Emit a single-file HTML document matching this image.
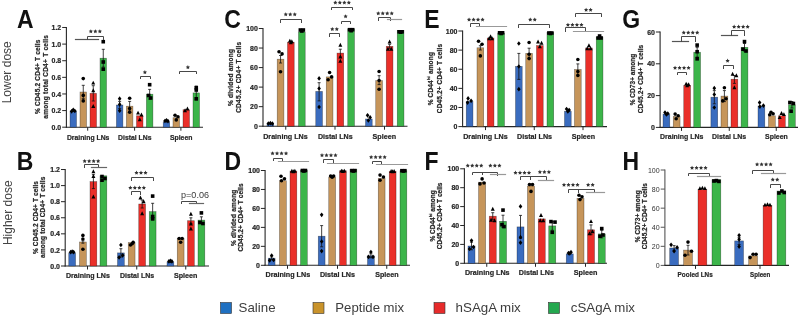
<!DOCTYPE html>
<html><head><meta charset="utf-8"><style>html,body{margin:0;padding:0;background:#fff;}svg{display:block}</style></head>
<body><svg width="798" height="316" viewBox="0 0 798 316">
<defs><filter id="bl" x="0" y="0" width="1" height="1" color-interpolation-filters="sRGB"><feGaussianBlur stdDeviation="0.35"/></filter></defs>
<rect width="798" height="316" fill="#fff"/>
<g filter="url(#bl)">
<rect width="798" height="316" fill="#fff"/>
<path d="M62.2,127.2 L66.4,127.2" fill="none" stroke="#262626" stroke-width="1" stroke-linejoin="round"/>
<text transform="translate(61.20 129.80) scale(0.93 1)" font-family="Liberation Sans" font-size="7.5" font-weight="bold" text-anchor="end" fill="#262626" stroke="#262626" stroke-width="0.22">0.0</text>
<path d="M62.2,110.58 L66.4,110.58" fill="none" stroke="#262626" stroke-width="1" stroke-linejoin="round"/>
<text transform="translate(61.20 113.18) scale(0.93 1)" font-family="Liberation Sans" font-size="7.5" font-weight="bold" text-anchor="end" fill="#262626" stroke="#262626" stroke-width="0.22">0.2</text>
<path d="M62.2,93.96000000000001 L66.4,93.96000000000001" fill="none" stroke="#262626" stroke-width="1" stroke-linejoin="round"/>
<text transform="translate(61.20 96.56) scale(0.93 1)" font-family="Liberation Sans" font-size="7.5" font-weight="bold" text-anchor="end" fill="#262626" stroke="#262626" stroke-width="0.22">0.4</text>
<path d="M62.2,77.34 L66.4,77.34" fill="none" stroke="#262626" stroke-width="1" stroke-linejoin="round"/>
<text transform="translate(61.20 79.94) scale(0.93 1)" font-family="Liberation Sans" font-size="7.5" font-weight="bold" text-anchor="end" fill="#262626" stroke="#262626" stroke-width="0.22">0.6</text>
<path d="M62.2,60.72 L66.4,60.72" fill="none" stroke="#262626" stroke-width="1" stroke-linejoin="round"/>
<text transform="translate(61.20 63.32) scale(0.93 1)" font-family="Liberation Sans" font-size="7.5" font-weight="bold" text-anchor="end" fill="#262626" stroke="#262626" stroke-width="0.22">0.8</text>
<path d="M62.2,44.10000000000001 L66.4,44.10000000000001" fill="none" stroke="#262626" stroke-width="1" stroke-linejoin="round"/>
<text transform="translate(61.20 46.70) scale(0.93 1)" font-family="Liberation Sans" font-size="7.5" font-weight="bold" text-anchor="end" fill="#262626" stroke="#262626" stroke-width="0.22">1.0</text>
<path d="M62.2,27.47999999999999 L66.4,27.47999999999999" fill="none" stroke="#262626" stroke-width="1" stroke-linejoin="round"/>
<text transform="translate(61.20 30.08) scale(0.93 1)" font-family="Liberation Sans" font-size="7.5" font-weight="bold" text-anchor="end" fill="#262626" stroke="#262626" stroke-width="0.22">1.2</text>
<path d="M66.4,26.980000000000018 L66.4,127.7" fill="none" stroke="#262626" stroke-width="1.1" stroke-linejoin="round"/>
<path d="M65.9,127.2 L203,127.2" fill="none" stroke="#262626" stroke-width="1.1" stroke-linejoin="round"/>
<rect x="70" y="111.00" width="6.5" height="16.20" fill="#3a6cbf" stroke="#000" stroke-opacity="0.45" stroke-width="0.6"/>
<rect x="80" y="92.00" width="6.5" height="35.20" fill="#c6955a" stroke="#000" stroke-opacity="0.45" stroke-width="0.6"/>
<rect x="90" y="93.30" width="6.5" height="33.90" fill="#ea2f29" stroke="#000" stroke-opacity="0.45" stroke-width="0.6"/>
<rect x="100" y="58.20" width="6.5" height="69.00" fill="#3cb54a" stroke="#000" stroke-opacity="0.45" stroke-width="0.6"/>
<path d="M87.7,127.2 L87.7,130.7" fill="none" stroke="#262626" stroke-width="1" stroke-linejoin="round"/>
<text x="88.15" y="139.70000000000002" font-family="Liberation Sans" font-size="7.9" font-weight="bold" text-anchor="middle" fill="#262626" stroke="#262626" stroke-width="0.22" textLength="42.5" lengthAdjust="spacingAndGlyphs">Draining LNs</text>
<rect x="116.4" y="105.00" width="6.5" height="22.20" fill="#3a6cbf" stroke="#000" stroke-opacity="0.45" stroke-width="0.6"/>
<rect x="126.4" y="106.20" width="6.5" height="21.00" fill="#c6955a" stroke="#000" stroke-opacity="0.45" stroke-width="0.6"/>
<rect x="136.5" y="115.80" width="6.5" height="11.40" fill="#ea2f29" stroke="#000" stroke-opacity="0.45" stroke-width="0.6"/>
<rect x="146.4" y="94.20" width="6.5" height="33.00" fill="#3cb54a" stroke="#000" stroke-opacity="0.45" stroke-width="0.6"/>
<path d="M134.6,127.2 L134.6,130.7" fill="none" stroke="#262626" stroke-width="1" stroke-linejoin="round"/>
<text x="134.8" y="139.70000000000002" font-family="Liberation Sans" font-size="7.9" font-weight="bold" text-anchor="middle" fill="#262626" stroke="#262626" stroke-width="0.22" textLength="33.4" lengthAdjust="spacingAndGlyphs">Distal LNs</text>
<rect x="163.2" y="122.10" width="6.5" height="5.10" fill="#3a6cbf" stroke="#000" stroke-opacity="0.45" stroke-width="0.6"/>
<rect x="173" y="117.70" width="6.5" height="9.50" fill="#c6955a" stroke="#000" stroke-opacity="0.45" stroke-width="0.6"/>
<rect x="183" y="109.70" width="6.5" height="17.50" fill="#ea2f29" stroke="#000" stroke-opacity="0.45" stroke-width="0.6"/>
<rect x="193" y="92.90" width="6.5" height="34.30" fill="#3cb54a" stroke="#000" stroke-opacity="0.45" stroke-width="0.6"/>
<path d="M180.9,127.2 L180.9,130.7" fill="none" stroke="#262626" stroke-width="1" stroke-linejoin="round"/>
<text x="181.15" y="139.70000000000002" font-family="Liberation Sans" font-size="7.9" font-weight="bold" text-anchor="middle" fill="#262626" stroke="#262626" stroke-width="0.22" textLength="22.5" lengthAdjust="spacingAndGlyphs">Spleen</text>
<polygon points="71.65,108.96 73.45,111.3 71.65,113.64 69.85000000000001,111.3" fill="#000"/>
<polygon points="73.25,107.46 75.05,109.8 73.25,112.14 71.45,109.8" fill="#000"/>
<polygon points="74.85,108.66 76.64999999999999,111 74.85,113.34 73.05,111" fill="#000"/>
<path d="M83.25,98.7 L83.25,85.3" fill="none" stroke="#111" stroke-width="0.8" stroke-linejoin="round"/>
<path d="M81.75,85.3 L84.75,85.3" fill="none" stroke="#111" stroke-width="0.8" stroke-linejoin="round"/>
<path d="M81.75,98.7 L84.75,98.7" fill="none" stroke="#111" stroke-width="0.8" stroke-linejoin="round"/>
<circle cx="83.25" cy="78.6" r="1.8" fill="#000"/>
<circle cx="83.25" cy="95.4" r="1.8" fill="#000"/>
<circle cx="83.25" cy="100.9" r="1.8" fill="#000"/>
<path d="M93.25,101 L93.25,85.7" fill="none" stroke="#111" stroke-width="0.8" stroke-linejoin="round"/>
<path d="M91.75,85.7 L94.75,85.7" fill="none" stroke="#111" stroke-width="0.8" stroke-linejoin="round"/>
<path d="M91.75,101 L94.75,101" fill="none" stroke="#111" stroke-width="0.8" stroke-linejoin="round"/>
<polygon points="93.25,80.64 95.23,84.6 91.27,84.6" fill="#000"/>
<polygon points="93.25,88.24000000000001 95.23,92.2 91.27,92.2" fill="#000"/>
<polygon points="93.25,104.04 95.23,108.0 91.27,108.0" fill="#000"/>
<path d="M103.25,67.1 L103.25,49.3" fill="none" stroke="#111" stroke-width="0.8" stroke-linejoin="round"/>
<path d="M101.75,49.3 L104.75,49.3" fill="none" stroke="#111" stroke-width="0.8" stroke-linejoin="round"/>
<path d="M101.75,67.1 L104.75,67.1" fill="none" stroke="#111" stroke-width="0.8" stroke-linejoin="round"/>
<rect x="101.45" y="39.900000000000006" width="3.6" height="3.6" fill="#000"/>
<rect x="101.45" y="60.2" width="3.6" height="3.6" fill="#000"/>
<rect x="101.45" y="67.4" width="3.6" height="3.6" fill="#000"/>
<path d="M119.65,108.6 L119.65,101.4" fill="none" stroke="#111" stroke-width="0.8" stroke-linejoin="round"/>
<path d="M118.15,101.4 L121.15,101.4" fill="none" stroke="#111" stroke-width="0.8" stroke-linejoin="round"/>
<path d="M118.15,108.6 L121.15,108.6" fill="none" stroke="#111" stroke-width="0.8" stroke-linejoin="round"/>
<polygon points="119.65,96.36 121.45,98.7 119.65,101.04 117.85000000000001,98.7" fill="#000"/>
<polygon points="119.65,102.06 121.45,104.4 119.65,106.74000000000001 117.85000000000001,104.4" fill="#000"/>
<polygon points="119.65,108.36 121.45,110.7 119.65,113.04 117.85000000000001,110.7" fill="#000"/>
<path d="M129.65,111 L129.65,101.4" fill="none" stroke="#111" stroke-width="0.8" stroke-linejoin="round"/>
<path d="M128.15,101.4 L131.15,101.4" fill="none" stroke="#111" stroke-width="0.8" stroke-linejoin="round"/>
<path d="M128.15,111 L131.15,111" fill="none" stroke="#111" stroke-width="0.8" stroke-linejoin="round"/>
<circle cx="129.65" cy="98.2" r="1.8" fill="#000"/>
<circle cx="129.65" cy="108.6" r="1.8" fill="#000"/>
<circle cx="129.65" cy="112.2" r="1.8" fill="#000"/>
<polygon points="138.05,110.64 140.03,114.6 136.07000000000002,114.6" fill="#000"/>
<polygon points="141.45,112.44 143.42999999999998,116.39999999999999 139.47,116.39999999999999" fill="#000"/>
<polygon points="139.75,117.24000000000001 141.73,121.2 137.77,121.2" fill="#000"/>
<path d="M149.65,99 L149.65,89.4" fill="none" stroke="#111" stroke-width="0.8" stroke-linejoin="round"/>
<path d="M148.15,89.4 L151.15,89.4" fill="none" stroke="#111" stroke-width="0.8" stroke-linejoin="round"/>
<path d="M148.15,99 L151.15,99" fill="none" stroke="#111" stroke-width="0.8" stroke-linejoin="round"/>
<rect x="147.85" y="82.9" width="3.6" height="3.6" fill="#000"/>
<rect x="146.85" y="93.7" width="3.6" height="3.6" fill="#000"/>
<rect x="148.85" y="96.2" width="3.6" height="3.6" fill="#000"/>
<polygon points="164.95,118.66 166.75,121 164.95,123.34 163.14999999999998,121" fill="#000"/>
<polygon points="166.45,117.96 168.25,120.3 166.45,122.64 164.64999999999998,120.3" fill="#000"/>
<polygon points="167.95,118.86 169.75,121.2 167.95,123.54 166.14999999999998,121.2" fill="#000"/>
<circle cx="175.05" cy="115.2" r="1.8" fill="#000"/>
<circle cx="177.95" cy="116.7" r="1.8" fill="#000"/>
<circle cx="176.25" cy="119.9" r="1.8" fill="#000"/>
<polygon points="185.05,108.24000000000001 187.03,112.2 183.07000000000002,112.2" fill="#000"/>
<polygon points="187.45,106.54 189.42999999999998,110.5 185.47,110.5" fill="#000"/>
<path d="M196.25,99.8 L196.25,86" fill="none" stroke="#111" stroke-width="0.8" stroke-linejoin="round"/>
<path d="M194.75,86 L197.75,86" fill="none" stroke="#111" stroke-width="0.8" stroke-linejoin="round"/>
<path d="M194.75,99.8 L197.75,99.8" fill="none" stroke="#111" stroke-width="0.8" stroke-linejoin="round"/>
<rect x="194.45" y="86.0" width="3.6" height="3.6" fill="#000"/>
<rect x="194.45" y="88.2" width="3.6" height="3.6" fill="#000"/>
<rect x="194.45" y="97.0" width="3.6" height="3.6" fill="#000"/>
<path d="M75.5,39.5 L98.5,39.5" fill="none" stroke="#555" stroke-width="1.2" stroke-linejoin="miter" stroke-linecap="square"/>
<path d="M87.5,39.5 L87.5,36.5 L103.5,36.5 L103.5,39.5" fill="none" stroke="#484848" stroke-width="1" stroke-linejoin="miter" stroke-linecap="square"/>
<path d="M140.5,78.5 L140.5,76.5 L150.5,76.5 L150.5,78.5" fill="none" stroke="#484848" stroke-width="1" stroke-linejoin="miter" stroke-linecap="square"/>
<path d="M179.5,73.5 L179.5,71.5 L196.5,71.5 L196.5,73.5" fill="none" stroke="#484848" stroke-width="1" stroke-linejoin="miter" stroke-linecap="square"/>
<polygon points="90.85,29.30 91.50,30.61 92.94,30.82 91.90,31.84 92.14,33.28 90.85,32.60 89.56,33.28 89.80,31.84 88.76,30.82 90.20,30.61" fill="#333"/><polygon points="95.35,29.30 96.00,30.61 97.44,30.82 96.40,31.84 96.64,33.28 95.35,32.60 94.06,33.28 94.30,31.84 93.26,30.82 94.70,30.61" fill="#333"/><polygon points="99.85,29.30 100.50,30.61 101.94,30.82 100.90,31.84 101.14,33.28 99.85,32.60 98.56,33.28 98.80,31.84 97.76,30.82 99.20,30.61" fill="#333"/>
<polygon points="144.90,70.10 145.55,71.41 146.99,71.62 145.95,72.64 146.19,74.08 144.90,73.40 143.61,74.08 143.85,72.64 142.81,71.62 144.25,71.41" fill="#333"/>
<polygon points="187.90,65.10 188.55,66.41 189.99,66.62 188.95,67.64 189.19,69.08 187.90,68.40 186.61,69.08 186.85,67.64 185.81,66.62 187.25,66.41" fill="#333"/>
<text x="40.4" y="76.75" font-family="Liberation Sans" font-size="6.5" font-weight="bold" text-anchor="middle" fill="#262626" stroke="#262626" stroke-width="0.22" textLength="74.5" lengthAdjust="spacing" transform="rotate(-90 40.4 76.75)">% CD45.2 CD4+ T cells</text>
<text x="47.6" y="76.85" font-family="Liberation Sans" font-size="6.5" font-weight="bold" text-anchor="middle" fill="#262626" stroke="#262626" stroke-width="0.22" textLength="83.7" lengthAdjust="spacing" transform="rotate(-90 47.6 76.85)">among total CD4+ T cells</text>
<text transform="translate(17.1 28.4) scale(0.92 1)" font-family="Liberation Sans" font-size="25" font-weight="bold" fill="#111">A</text>
<path d="M258.8,126.2 L263,126.2" fill="none" stroke="#262626" stroke-width="1" stroke-linejoin="round"/>
<text transform="translate(257.80 128.80) scale(0.93 1)" font-family="Liberation Sans" font-size="7.5" font-weight="bold" text-anchor="end" fill="#262626" stroke="#262626" stroke-width="0.22">0</text>
<path d="M258.8,106.66 L263,106.66" fill="none" stroke="#262626" stroke-width="1" stroke-linejoin="round"/>
<text transform="translate(257.80 109.26) scale(0.93 1)" font-family="Liberation Sans" font-size="7.5" font-weight="bold" text-anchor="end" fill="#262626" stroke="#262626" stroke-width="0.22">20</text>
<path d="M258.8,87.12 L263,87.12" fill="none" stroke="#262626" stroke-width="1" stroke-linejoin="round"/>
<text transform="translate(257.80 89.72) scale(0.93 1)" font-family="Liberation Sans" font-size="7.5" font-weight="bold" text-anchor="end" fill="#262626" stroke="#262626" stroke-width="0.22">40</text>
<path d="M258.8,67.58000000000001 L263,67.58000000000001" fill="none" stroke="#262626" stroke-width="1" stroke-linejoin="round"/>
<text transform="translate(257.80 70.18) scale(0.93 1)" font-family="Liberation Sans" font-size="7.5" font-weight="bold" text-anchor="end" fill="#262626" stroke="#262626" stroke-width="0.22">60</text>
<path d="M258.8,48.040000000000006 L263,48.040000000000006" fill="none" stroke="#262626" stroke-width="1" stroke-linejoin="round"/>
<text transform="translate(257.80 50.64) scale(0.93 1)" font-family="Liberation Sans" font-size="7.5" font-weight="bold" text-anchor="end" fill="#262626" stroke="#262626" stroke-width="0.22">80</text>
<path d="M258.8,28.5 L263,28.5" fill="none" stroke="#262626" stroke-width="1" stroke-linejoin="round"/>
<text transform="translate(257.80 31.10) scale(0.93 1)" font-family="Liberation Sans" font-size="7.5" font-weight="bold" text-anchor="end" fill="#262626" stroke="#262626" stroke-width="0.22">100</text>
<path d="M263,28.0 L263,126.7" fill="none" stroke="#262626" stroke-width="1.1" stroke-linejoin="round"/>
<path d="M262.5,126.2 L407.5,126.2" fill="none" stroke="#262626" stroke-width="1.1" stroke-linejoin="round"/>
<rect x="267" y="124.00" width="6.7" height="2.20" fill="#3a6cbf" stroke="#000" stroke-opacity="0.45" stroke-width="0.6"/>
<rect x="277.2" y="59.20" width="6.7" height="67.00" fill="#c6955a" stroke="#000" stroke-opacity="0.45" stroke-width="0.6"/>
<rect x="287.5" y="42.20" width="6.7" height="84.00" fill="#ea2f29" stroke="#000" stroke-opacity="0.45" stroke-width="0.6"/>
<rect x="298.5" y="32.00" width="6.7" height="94.20" fill="#3cb54a" stroke="#000" stroke-opacity="0.45" stroke-width="0.6"/>
<path d="M285.75,126.2 L285.75,129.7" fill="none" stroke="#262626" stroke-width="1" stroke-linejoin="round"/>
<text x="285.45" y="138.5" font-family="Liberation Sans" font-size="7.9" font-weight="bold" text-anchor="middle" fill="#262626" stroke="#262626" stroke-width="0.22" textLength="44.5" lengthAdjust="spacingAndGlyphs">Draining LNs</text>
<rect x="315.75" y="91.40" width="6.7" height="34.80" fill="#3a6cbf" stroke="#000" stroke-opacity="0.45" stroke-width="0.6"/>
<rect x="326.25" y="76.90" width="6.7" height="49.30" fill="#c6955a" stroke="#000" stroke-opacity="0.45" stroke-width="0.6"/>
<rect x="337" y="53.10" width="6.7" height="73.10" fill="#ea2f29" stroke="#000" stroke-opacity="0.45" stroke-width="0.6"/>
<rect x="347.75" y="28.75" width="6.7" height="97.45" fill="#3cb54a" stroke="#000" stroke-opacity="0.45" stroke-width="0.6"/>
<path d="M335,126.2 L335,129.7" fill="none" stroke="#262626" stroke-width="1" stroke-linejoin="round"/>
<text x="335.25" y="138.5" font-family="Liberation Sans" font-size="7.9" font-weight="bold" text-anchor="middle" fill="#262626" stroke="#262626" stroke-width="0.22" textLength="34.7" lengthAdjust="spacingAndGlyphs">Distal LNs</text>
<rect x="365.5" y="119.00" width="6.7" height="7.20" fill="#3a6cbf" stroke="#000" stroke-opacity="0.45" stroke-width="0.6"/>
<rect x="375.75" y="80.60" width="6.7" height="45.60" fill="#c6955a" stroke="#000" stroke-opacity="0.45" stroke-width="0.6"/>
<rect x="386.25" y="46.30" width="6.7" height="79.90" fill="#ea2f29" stroke="#000" stroke-opacity="0.45" stroke-width="0.6"/>
<rect x="397.25" y="30.30" width="6.7" height="95.90" fill="#3cb54a" stroke="#000" stroke-opacity="0.45" stroke-width="0.6"/>
<path d="M384.5,126.2 L384.5,129.7" fill="none" stroke="#262626" stroke-width="1" stroke-linejoin="round"/>
<text x="384.3" y="138.5" font-family="Liberation Sans" font-size="7.9" font-weight="bold" text-anchor="middle" fill="#262626" stroke="#262626" stroke-width="0.22" textLength="23.4" lengthAdjust="spacingAndGlyphs">Spleen</text>
<polygon points="268.35,121.25999999999999 270.15000000000003,123.6 268.35,125.94 266.55,123.6" fill="#000"/>
<polygon points="270.35,120.86 272.15000000000003,123.2 270.35,125.54 268.55,123.2" fill="#000"/>
<polygon points="272.35,121.25999999999999 274.15000000000003,123.6 272.35,125.94 270.55,123.6" fill="#000"/>
<path d="M280.55,63 L280.55,55.5" fill="none" stroke="#111" stroke-width="0.8" stroke-linejoin="round"/>
<path d="M279.05,55.5 L282.05,55.5" fill="none" stroke="#111" stroke-width="0.8" stroke-linejoin="round"/>
<path d="M279.05,63 L282.05,63" fill="none" stroke="#111" stroke-width="0.8" stroke-linejoin="round"/>
<circle cx="279.05" cy="51.7" r="1.8" fill="#000"/>
<circle cx="282.05" cy="53.9" r="1.8" fill="#000"/>
<circle cx="280.55" cy="71.7" r="1.8" fill="#000"/>
<polygon points="289.85,38.64 291.83000000000004,42.599999999999994 287.87,42.599999999999994" fill="#000"/>
<polygon points="291.85,39.34 293.83000000000004,43.3 289.87,43.3" fill="#000"/>
<polygon points="290.85,40.34 292.83000000000004,44.3 288.87,44.3" fill="#000"/>
<rect x="298.55" y="28.2" width="3.6" height="3.6" fill="#000"/>
<rect x="301.55" y="28.2" width="3.6" height="3.6" fill="#000"/>
<rect x="300.05" y="29.2" width="3.6" height="3.6" fill="#000"/>
<path d="M319.1,100.9 L319.1,82.7" fill="none" stroke="#111" stroke-width="0.8" stroke-linejoin="round"/>
<path d="M317.6,82.7 L320.6,82.7" fill="none" stroke="#111" stroke-width="0.8" stroke-linejoin="round"/>
<path d="M317.6,100.9 L320.6,100.9" fill="none" stroke="#111" stroke-width="0.8" stroke-linejoin="round"/>
<polygon points="319.1,76.06 320.90000000000003,78.4 319.1,80.74000000000001 317.3,78.4" fill="#000"/>
<polygon points="319.1,86.16 320.90000000000003,88.5 319.1,90.84 317.3,88.5" fill="#000"/>
<polygon points="319.1,104.66 320.90000000000003,107 319.1,109.34 317.3,107" fill="#000"/>
<circle cx="329.6" cy="72.5" r="1.8" fill="#000"/>
<circle cx="331.6" cy="76.9" r="1.8" fill="#000"/>
<circle cx="328.1" cy="79.8" r="1.8" fill="#000"/>
<path d="M340.35,57 L340.35,49.2" fill="none" stroke="#111" stroke-width="0.8" stroke-linejoin="round"/>
<path d="M338.85,49.2 L341.85,49.2" fill="none" stroke="#111" stroke-width="0.8" stroke-linejoin="round"/>
<path d="M338.85,57 L341.85,57" fill="none" stroke="#111" stroke-width="0.8" stroke-linejoin="round"/>
<polygon points="340.35,42.84 342.33000000000004,46.8 338.37,46.8" fill="#000"/>
<polygon points="340.35,54.540000000000006 342.33000000000004,58.5 338.37,58.5" fill="#000"/>
<polygon points="340.35,58.739999999999995 342.33000000000004,62.699999999999996 338.37,62.699999999999996" fill="#000"/>
<rect x="347.8" y="27.9" width="3.6" height="3.6" fill="#000"/>
<rect x="350.8" y="27.9" width="3.6" height="3.6" fill="#000"/>
<rect x="349.3" y="28.9" width="3.6" height="3.6" fill="#000"/>
<polygon points="367.55,112.96 369.35,115.3 367.55,117.64 365.75,115.3" fill="#000"/>
<polygon points="370.15000000000003,115.06 371.95000000000005,117.4 370.15000000000003,119.74000000000001 368.35,117.4" fill="#000"/>
<polygon points="368.35,118.16 370.15000000000003,120.5 368.35,122.84 366.55,120.5" fill="#000"/>
<path d="M379.1,84.6 L379.1,75.7" fill="none" stroke="#111" stroke-width="0.8" stroke-linejoin="round"/>
<path d="M377.6,75.7 L380.6,75.7" fill="none" stroke="#111" stroke-width="0.8" stroke-linejoin="round"/>
<path d="M377.6,84.6 L380.6,84.6" fill="none" stroke="#111" stroke-width="0.8" stroke-linejoin="round"/>
<circle cx="379.1" cy="71.5" r="1.8" fill="#000"/>
<circle cx="379.1" cy="80.5" r="1.8" fill="#000"/>
<circle cx="379.1" cy="89.2" r="1.8" fill="#000"/>
<path d="M389.6,48.3 L389.6,44.3" fill="none" stroke="#111" stroke-width="0.8" stroke-linejoin="round"/>
<path d="M388.1,44.3 L391.1,44.3" fill="none" stroke="#111" stroke-width="0.8" stroke-linejoin="round"/>
<path d="M388.1,48.3 L391.1,48.3" fill="none" stroke="#111" stroke-width="0.8" stroke-linejoin="round"/>
<polygon points="389.6,39.540000000000006 391.58000000000004,43.5 387.62,43.5" fill="#000"/>
<polygon points="387.90000000000003,46.84 389.88000000000005,50.8 385.92,50.8" fill="#000"/>
<polygon points="391.3,46.84 393.28000000000003,50.8 389.32,50.8" fill="#000"/>
<rect x="397.3" y="30.0" width="3.6" height="3.6" fill="#000"/>
<rect x="400.3" y="30.0" width="3.6" height="3.6" fill="#000"/>
<rect x="398.8" y="30.400000000000002" width="3.6" height="3.6" fill="#000"/>
<path d="M280.5,22.5 L280.5,19.5 L301.5,19.5 L301.5,22.5" fill="none" stroke="#484848" stroke-width="1" stroke-linejoin="miter" stroke-linecap="square"/>
<path d="M329.5,36.5 L329.5,33.5 L339.5,33.5 L339.5,36.5" fill="none" stroke="#484848" stroke-width="1" stroke-linejoin="miter" stroke-linecap="square"/>
<path d="M341.5,23.5 L341.5,21.5 L350.5,21.5 L350.5,23.5" fill="none" stroke="#484848" stroke-width="1" stroke-linejoin="miter" stroke-linecap="square"/>
<path d="M331.5,9.5 L331.5,7.5 L352.5,7.5 L352.5,9.5" fill="none" stroke="#484848" stroke-width="1" stroke-linejoin="miter" stroke-linecap="square"/>
<path d="M378.5,20.5 L378.5,17.5 L390.5,17.5 L390.5,20.5" fill="none" stroke="#484848" stroke-width="1" stroke-linejoin="miter" stroke-linecap="square"/>
<path d="M387.5,19.5 L401.5,19.5" fill="none" stroke="#999" stroke-width="1.2" stroke-linejoin="miter" stroke-linecap="square"/>
<polygon points="285.75,12.20 286.40,13.51 287.84,13.72 286.80,14.74 287.04,16.18 285.75,15.50 284.46,16.18 284.70,14.74 283.66,13.72 285.10,13.51" fill="#333"/><polygon points="290.25,12.20 290.90,13.51 292.34,13.72 291.30,14.74 291.54,16.18 290.25,15.50 288.96,16.18 289.20,14.74 288.16,13.72 289.60,13.51" fill="#333"/><polygon points="294.75,12.20 295.40,13.51 296.84,13.72 295.80,14.74 296.04,16.18 294.75,15.50 293.46,16.18 293.70,14.74 292.66,13.72 294.10,13.51" fill="#333"/>
<polygon points="332.30,27.00 332.95,28.31 334.39,28.52 333.35,29.54 333.59,30.98 332.30,30.30 331.01,30.98 331.25,29.54 330.21,28.52 331.65,28.31" fill="#333"/><polygon points="336.80,27.00 337.45,28.31 338.89,28.52 337.85,29.54 338.09,30.98 336.80,30.30 335.51,30.98 335.75,29.54 334.71,28.52 336.15,28.31" fill="#333"/>
<polygon points="345.60,14.30 346.25,15.61 347.69,15.82 346.65,16.84 346.89,18.28 345.60,17.60 344.31,18.28 344.55,16.84 343.51,15.82 344.95,15.61" fill="#333"/>
<polygon points="335.35,0.50 336.00,1.81 337.44,2.02 336.40,3.04 336.64,4.48 335.35,3.80 334.06,4.48 334.30,3.04 333.26,2.02 334.70,1.81" fill="#333"/><polygon points="339.85,0.50 340.50,1.81 341.94,2.02 340.90,3.04 341.14,4.48 339.85,3.80 338.56,4.48 338.80,3.04 337.76,2.02 339.20,1.81" fill="#333"/><polygon points="344.35,0.50 345.00,1.81 346.44,2.02 345.40,3.04 345.64,4.48 344.35,3.80 343.06,4.48 343.30,3.04 342.26,2.02 343.70,1.81" fill="#333"/><polygon points="348.85,0.50 349.50,1.81 350.94,2.02 349.90,3.04 350.14,4.48 348.85,3.80 347.56,4.48 347.80,3.04 346.76,2.02 348.20,1.81" fill="#333"/>
<polygon points="378.25,11.20 378.90,12.51 380.34,12.72 379.30,13.74 379.54,15.18 378.25,14.50 376.96,15.18 377.20,13.74 376.16,12.72 377.60,12.51" fill="#333"/><polygon points="382.75,11.20 383.40,12.51 384.84,12.72 383.80,13.74 384.04,15.18 382.75,14.50 381.46,15.18 381.70,13.74 380.66,12.72 382.10,12.51" fill="#333"/><polygon points="387.25,11.20 387.90,12.51 389.34,12.72 388.30,13.74 388.54,15.18 387.25,14.50 385.96,15.18 386.20,13.74 385.16,12.72 386.60,12.51" fill="#333"/><polygon points="391.75,11.20 392.40,12.51 393.84,12.72 392.80,13.74 393.04,15.18 391.75,14.50 390.46,15.18 390.70,13.74 389.66,12.72 391.10,12.51" fill="#333"/>
<text x="232.8" y="77.5" font-family="Liberation Sans" font-size="6.5" font-weight="bold" text-anchor="middle" fill="#262626" stroke="#262626" stroke-width="0.22" textLength="57.2" lengthAdjust="spacing" transform="rotate(-90 232.8 77.5)">% divided among</text>
<text x="241.2" y="77.35" font-family="Liberation Sans" font-size="6.5" font-weight="bold" text-anchor="middle" fill="#262626" stroke="#262626" stroke-width="0.22" textLength="70.9" lengthAdjust="spacing" transform="rotate(-90 241.2 77.35)">CD45.2+ CD4+ T cells</text>
<text transform="translate(224.3 28.4) scale(0.92 1)" font-family="Liberation Sans" font-size="25" font-weight="bold" fill="#111">C</text>
<path d="M458.40000000000003,126.6 L462.6,126.6" fill="none" stroke="#262626" stroke-width="1" stroke-linejoin="round"/>
<text transform="translate(457.40 129.20) scale(0.93 1)" font-family="Liberation Sans" font-size="7.5" font-weight="bold" text-anchor="end" fill="#262626" stroke="#262626" stroke-width="0.22">0</text>
<path d="M458.40000000000003,107.47999999999999 L462.6,107.47999999999999" fill="none" stroke="#262626" stroke-width="1" stroke-linejoin="round"/>
<text transform="translate(457.40 110.08) scale(0.93 1)" font-family="Liberation Sans" font-size="7.5" font-weight="bold" text-anchor="end" fill="#262626" stroke="#262626" stroke-width="0.22">20</text>
<path d="M458.40000000000003,88.36 L462.6,88.36" fill="none" stroke="#262626" stroke-width="1" stroke-linejoin="round"/>
<text transform="translate(457.40 90.96) scale(0.93 1)" font-family="Liberation Sans" font-size="7.5" font-weight="bold" text-anchor="end" fill="#262626" stroke="#262626" stroke-width="0.22">40</text>
<path d="M458.40000000000003,69.24 L462.6,69.24" fill="none" stroke="#262626" stroke-width="1" stroke-linejoin="round"/>
<text transform="translate(457.40 71.84) scale(0.93 1)" font-family="Liberation Sans" font-size="7.5" font-weight="bold" text-anchor="end" fill="#262626" stroke="#262626" stroke-width="0.22">60</text>
<path d="M458.40000000000003,50.120000000000005 L462.6,50.120000000000005" fill="none" stroke="#262626" stroke-width="1" stroke-linejoin="round"/>
<text transform="translate(457.40 52.72) scale(0.93 1)" font-family="Liberation Sans" font-size="7.5" font-weight="bold" text-anchor="end" fill="#262626" stroke="#262626" stroke-width="0.22">80</text>
<path d="M458.40000000000003,31.0 L462.6,31.0" fill="none" stroke="#262626" stroke-width="1" stroke-linejoin="round"/>
<text transform="translate(457.40 33.60) scale(0.93 1)" font-family="Liberation Sans" font-size="7.5" font-weight="bold" text-anchor="end" fill="#262626" stroke="#262626" stroke-width="0.22">100</text>
<path d="M462.6,30.5 L462.6,127.1" fill="none" stroke="#262626" stroke-width="1.1" stroke-linejoin="round"/>
<path d="M462.1,126.6 L607,126.6" fill="none" stroke="#262626" stroke-width="1.1" stroke-linejoin="round"/>
<rect x="466.25" y="101.40" width="6.7" height="25.20" fill="#3a6cbf" stroke="#000" stroke-opacity="0.45" stroke-width="0.6"/>
<rect x="477" y="47.80" width="6.7" height="78.80" fill="#c6955a" stroke="#000" stroke-opacity="0.45" stroke-width="0.6"/>
<rect x="487.25" y="38.00" width="6.7" height="88.60" fill="#ea2f29" stroke="#000" stroke-opacity="0.45" stroke-width="0.6"/>
<rect x="497.75" y="33.00" width="6.7" height="93.60" fill="#3cb54a" stroke="#000" stroke-opacity="0.45" stroke-width="0.6"/>
<path d="M485.5,126.6 L485.5,130.1" fill="none" stroke="#262626" stroke-width="1" stroke-linejoin="round"/>
<text x="485.45" y="138.5" font-family="Liberation Sans" font-size="7.9" font-weight="bold" text-anchor="middle" fill="#262626" stroke="#262626" stroke-width="0.22" textLength="44.5" lengthAdjust="spacingAndGlyphs">Draining LNs</text>
<rect x="515.5" y="66.40" width="6.7" height="60.20" fill="#3a6cbf" stroke="#000" stroke-opacity="0.45" stroke-width="0.6"/>
<rect x="525.75" y="53.40" width="6.7" height="73.20" fill="#c6955a" stroke="#000" stroke-opacity="0.45" stroke-width="0.6"/>
<rect x="536.5" y="45.60" width="6.7" height="81.00" fill="#ea2f29" stroke="#000" stroke-opacity="0.45" stroke-width="0.6"/>
<rect x="547" y="32.60" width="6.7" height="94.00" fill="#3cb54a" stroke="#000" stroke-opacity="0.45" stroke-width="0.6"/>
<path d="M534.25,126.6 L534.25,130.1" fill="none" stroke="#262626" stroke-width="1" stroke-linejoin="round"/>
<text x="534.55" y="138.5" font-family="Liberation Sans" font-size="7.9" font-weight="bold" text-anchor="middle" fill="#262626" stroke="#262626" stroke-width="0.22" textLength="35.1" lengthAdjust="spacingAndGlyphs">Distal LNs</text>
<rect x="564.5" y="111.25" width="6.7" height="15.35" fill="#3a6cbf" stroke="#000" stroke-opacity="0.45" stroke-width="0.6"/>
<rect x="574.5" y="69.50" width="6.7" height="57.10" fill="#c6955a" stroke="#000" stroke-opacity="0.45" stroke-width="0.6"/>
<rect x="585.6" y="48.00" width="6.7" height="78.60" fill="#ea2f29" stroke="#000" stroke-opacity="0.45" stroke-width="0.6"/>
<rect x="596.25" y="37.00" width="6.7" height="89.60" fill="#3cb54a" stroke="#000" stroke-opacity="0.45" stroke-width="0.6"/>
<path d="M583,126.6 L583,130.1" fill="none" stroke="#262626" stroke-width="1" stroke-linejoin="round"/>
<text x="583.45" y="138.5" font-family="Liberation Sans" font-size="7.9" font-weight="bold" text-anchor="middle" fill="#262626" stroke="#262626" stroke-width="0.22" textLength="23.3" lengthAdjust="spacingAndGlyphs">Spleen</text>
<polygon points="468.1,96.06 469.90000000000003,98.4 468.1,100.74000000000001 466.3,98.4" fill="#000"/>
<polygon points="471.1,98.46 472.90000000000003,100.8 471.1,103.14 469.3,100.8" fill="#000"/>
<polygon points="467.6,100.25999999999999 469.40000000000003,102.6 467.6,104.94 465.8,102.6" fill="#000"/>
<path d="M480.35,50 L480.35,45.7" fill="none" stroke="#111" stroke-width="0.8" stroke-linejoin="round"/>
<path d="M478.85,45.7 L481.85,45.7" fill="none" stroke="#111" stroke-width="0.8" stroke-linejoin="round"/>
<path d="M478.85,50 L481.85,50" fill="none" stroke="#111" stroke-width="0.8" stroke-linejoin="round"/>
<circle cx="478.55" cy="41.2" r="1.8" fill="#000"/>
<circle cx="482.05" cy="44.2" r="1.8" fill="#000"/>
<circle cx="480.35" cy="55.9" r="1.8" fill="#000"/>
<polygon points="490.6,34.34 492.58000000000004,38.3 488.62,38.3" fill="#000"/>
<polygon points="489.1,36.34 491.08000000000004,40.3 487.12,40.3" fill="#000"/>
<polygon points="492.1,36.34 494.08000000000004,40.3 490.12,40.3" fill="#000"/>
<rect x="497.8" y="30.999999999999996" width="3.6" height="3.6" fill="#000"/>
<rect x="500.8" y="30.999999999999996" width="3.6" height="3.6" fill="#000"/>
<rect x="499.3" y="31.7" width="3.6" height="3.6" fill="#000"/>
<path d="M518.85,79.4 L518.85,53.4" fill="none" stroke="#111" stroke-width="0.8" stroke-linejoin="round"/>
<path d="M517.35,53.4 L520.35,53.4" fill="none" stroke="#111" stroke-width="0.8" stroke-linejoin="round"/>
<path d="M517.35,79.4 L520.35,79.4" fill="none" stroke="#111" stroke-width="0.8" stroke-linejoin="round"/>
<polygon points="518.85,41.16 520.65,43.5 518.85,45.84 517.0500000000001,43.5" fill="#000"/>
<polygon points="518.85,64.16 520.65,66.5 518.85,68.84 517.0500000000001,66.5" fill="#000"/>
<polygon points="518.85,86.86 520.65,89.2 518.85,91.54 517.0500000000001,89.2" fill="#000"/>
<path d="M529.1,58.6 L529.1,48.2" fill="none" stroke="#111" stroke-width="0.8" stroke-linejoin="round"/>
<path d="M527.6,48.2 L530.6,48.2" fill="none" stroke="#111" stroke-width="0.8" stroke-linejoin="round"/>
<path d="M527.6,58.6 L530.6,58.6" fill="none" stroke="#111" stroke-width="0.8" stroke-linejoin="round"/>
<circle cx="529.1" cy="42.5" r="1.8" fill="#000"/>
<circle cx="529.1" cy="54.2" r="1.8" fill="#000"/>
<circle cx="529.1" cy="58.6" r="1.8" fill="#000"/>
<polygon points="538.0500000000001,39.540000000000006 540.0300000000001,43.5 536.07,43.5" fill="#000"/>
<polygon points="541.5500000000001,40.84 543.5300000000001,44.8 539.57,44.8" fill="#000"/>
<polygon points="539.85,44.34 541.83,48.3 537.87,48.3" fill="#000"/>
<rect x="547.0500000000001" y="31.2" width="3.6" height="3.6" fill="#000"/>
<rect x="550.0500000000001" y="31.2" width="3.6" height="3.6" fill="#000"/>
<rect x="548.5500000000001" y="31.7" width="3.6" height="3.6" fill="#000"/>
<polygon points="566.5500000000001,106.66 568.35,109 566.5500000000001,111.34 564.7500000000001,109" fill="#000"/>
<polygon points="569.15,107.66 570.9499999999999,110 569.15,112.34 567.35,110" fill="#000"/>
<polygon points="567.85,109.16 569.65,111.5 567.85,113.84 566.0500000000001,111.5" fill="#000"/>
<path d="M577.85,75 L577.85,63.9" fill="none" stroke="#111" stroke-width="0.8" stroke-linejoin="round"/>
<path d="M576.35,63.9 L579.35,63.9" fill="none" stroke="#111" stroke-width="0.8" stroke-linejoin="round"/>
<path d="M576.35,75 L579.35,75" fill="none" stroke="#111" stroke-width="0.8" stroke-linejoin="round"/>
<circle cx="577.85" cy="59.5" r="1.8" fill="#000"/>
<circle cx="577.85" cy="71.6" r="1.8" fill="#000"/>
<circle cx="577.85" cy="75.5" r="1.8" fill="#000"/>
<polygon points="588.95,43.34 590.9300000000001,47.3 586.97,47.3" fill="#000"/>
<polygon points="587.25,46.34 589.23,50.3 585.27,50.3" fill="#000"/>
<polygon points="590.6500000000001,46.34 592.6300000000001,50.3 588.6700000000001,50.3" fill="#000"/>
<rect x="597.8000000000001" y="34.2" width="3.6" height="3.6" fill="#000"/>
<rect x="596.3000000000001" y="36.2" width="3.6" height="3.6" fill="#000"/>
<rect x="599.3000000000001" y="36.2" width="3.6" height="3.6" fill="#000"/>
<path d="M470.5,26.5 L470.5,23.5 L479.5,23.5 L479.5,26.5" fill="none" stroke="#484848" stroke-width="1" stroke-linejoin="miter" stroke-linecap="square"/>
<path d="M476.5,26.5 L506.5,26.5" fill="none" stroke="#999" stroke-width="1.2" stroke-linejoin="miter" stroke-linecap="square"/>
<path d="M518.5,27.5 L518.5,24.5 L549.5,24.5 L549.5,27.5" fill="none" stroke="#484848" stroke-width="1" stroke-linejoin="miter" stroke-linecap="square"/>
<path d="M565.5,31.5 L565.5,27.5 L585.5,27.5 L585.5,31.5" fill="none" stroke="#484848" stroke-width="1" stroke-linejoin="miter" stroke-linecap="square"/>
<path d="M573.5,31.5 L603.5,31.5" fill="none" stroke="#999" stroke-width="1.2" stroke-linejoin="miter" stroke-linecap="square"/>
<path d="M575.5,16.5 L575.5,13.5 L601.5,13.5 L601.5,16.5" fill="none" stroke="#484848" stroke-width="1" stroke-linejoin="miter" stroke-linecap="square"/>
<polygon points="469.05,17.50 469.70,18.81 471.14,19.02 470.10,20.04 470.34,21.48 469.05,20.80 467.76,21.48 468.00,20.04 466.96,19.02 468.40,18.81" fill="#333"/><polygon points="473.55,17.50 474.20,18.81 475.64,19.02 474.60,20.04 474.84,21.48 473.55,20.80 472.26,21.48 472.50,20.04 471.46,19.02 472.90,18.81" fill="#333"/><polygon points="478.05,17.50 478.70,18.81 480.14,19.02 479.10,20.04 479.34,21.48 478.05,20.80 476.76,21.48 477.00,20.04 475.96,19.02 477.40,18.81" fill="#333"/><polygon points="482.55,17.50 483.20,18.81 484.64,19.02 483.60,20.04 483.84,21.48 482.55,20.80 481.26,21.48 481.50,20.04 480.46,19.02 481.90,18.81" fill="#333"/>
<polygon points="530.25,17.40 530.90,18.71 532.34,18.92 531.30,19.94 531.54,21.38 530.25,20.70 528.96,21.38 529.20,19.94 528.16,18.92 529.60,18.71" fill="#333"/><polygon points="534.75,17.40 535.40,18.71 536.84,18.92 535.80,19.94 536.04,21.38 534.75,20.70 533.46,21.38 533.70,19.94 532.66,18.92 534.10,18.71" fill="#333"/>
<polygon points="567.95,22.70 568.60,24.01 570.04,24.22 569.00,25.24 569.24,26.68 567.95,26.00 566.66,26.68 566.90,25.24 565.86,24.22 567.30,24.01" fill="#333"/><polygon points="572.45,22.70 573.10,24.01 574.54,24.22 573.50,25.24 573.74,26.68 572.45,26.00 571.16,26.68 571.40,25.24 570.36,24.22 571.80,24.01" fill="#333"/><polygon points="576.95,22.70 577.60,24.01 579.04,24.22 578.00,25.24 578.24,26.68 576.95,26.00 575.66,26.68 575.90,25.24 574.86,24.22 576.30,24.01" fill="#333"/><polygon points="581.45,22.70 582.10,24.01 583.54,24.22 582.50,25.24 582.74,26.68 581.45,26.00 580.16,26.68 580.40,25.24 579.36,24.22 580.80,24.01" fill="#333"/>
<polygon points="586.10,7.70 586.75,9.01 588.19,9.22 587.15,10.24 587.39,11.68 586.10,11.00 584.81,11.68 585.05,10.24 584.01,9.22 585.45,9.01" fill="#333"/><polygon points="590.60,7.70 591.25,9.01 592.69,9.22 591.65,10.24 591.89,11.68 590.60,11.00 589.31,11.68 589.55,10.24 588.51,9.22 589.95,9.01" fill="#333"/>
<text x="433.3" y="78.7" font-family="Liberation Sans" font-size="6.5" font-weight="bold" text-anchor="middle" fill="#262626" stroke="#262626" stroke-width="0.22" textLength="53.2" lengthAdjust="spacing" transform="rotate(-90 433.3 78.7)">% CD44<tspan font-size="4.2" dy="-2.9">hi</tspan><tspan dy="2.9"> among</tspan></text>
<text x="442" y="78.55" font-family="Liberation Sans" font-size="6.5" font-weight="bold" text-anchor="middle" fill="#262626" stroke="#262626" stroke-width="0.22" textLength="69.3" lengthAdjust="spacing" transform="rotate(-90 442 78.55)">CD45.2+ CD4+ T cells</text>
<text transform="translate(424.3 28.4) scale(0.92 1)" font-family="Liberation Sans" font-size="25" font-weight="bold" fill="#111">E</text>
<path d="M655.9,127.4 L660.1,127.4" fill="none" stroke="#262626" stroke-width="1" stroke-linejoin="round"/>
<text transform="translate(654.90 130.00) scale(0.93 1)" font-family="Liberation Sans" font-size="7.5" font-weight="bold" text-anchor="end" fill="#262626" stroke="#262626" stroke-width="0.22">0</text>
<path d="M655.9,95.60000000000001 L660.1,95.60000000000001" fill="none" stroke="#262626" stroke-width="1" stroke-linejoin="round"/>
<text transform="translate(654.90 98.20) scale(0.93 1)" font-family="Liberation Sans" font-size="7.5" font-weight="bold" text-anchor="end" fill="#262626" stroke="#262626" stroke-width="0.22">20</text>
<path d="M655.9,63.800000000000004 L660.1,63.800000000000004" fill="none" stroke="#262626" stroke-width="1" stroke-linejoin="round"/>
<text transform="translate(654.90 66.40) scale(0.93 1)" font-family="Liberation Sans" font-size="7.5" font-weight="bold" text-anchor="end" fill="#262626" stroke="#262626" stroke-width="0.22">40</text>
<path d="M655.9,32.0 L660.1,32.0" fill="none" stroke="#262626" stroke-width="1" stroke-linejoin="round"/>
<text transform="translate(654.90 34.60) scale(0.93 1)" font-family="Liberation Sans" font-size="7.5" font-weight="bold" text-anchor="end" fill="#262626" stroke="#262626" stroke-width="0.22">60</text>
<path d="M660.1,31.5 L660.1,127.9" fill="none" stroke="#262626" stroke-width="1.1" stroke-linejoin="round"/>
<path d="M659.6,127.4 L798.5,127.4" fill="none" stroke="#262626" stroke-width="1.1" stroke-linejoin="round"/>
<rect x="663" y="114.10" width="6.8" height="13.30" fill="#3a6cbf" stroke="#000" stroke-opacity="0.45" stroke-width="0.6"/>
<rect x="673.25" y="116.40" width="6.8" height="11.00" fill="#c6955a" stroke="#000" stroke-opacity="0.45" stroke-width="0.6"/>
<rect x="683.75" y="85.30" width="6.8" height="42.10" fill="#ea2f29" stroke="#000" stroke-opacity="0.45" stroke-width="0.6"/>
<rect x="693.75" y="52.20" width="6.8" height="75.20" fill="#3cb54a" stroke="#000" stroke-opacity="0.45" stroke-width="0.6"/>
<path d="M681.5,127.4 L681.5,130.9" fill="none" stroke="#262626" stroke-width="1" stroke-linejoin="round"/>
<text x="681.7" y="139.20000000000002" font-family="Liberation Sans" font-size="7.9" font-weight="bold" text-anchor="middle" fill="#262626" stroke="#262626" stroke-width="0.22" textLength="43.2" lengthAdjust="spacingAndGlyphs">Draining LNs</text>
<rect x="710.9" y="97.20" width="6.8" height="30.20" fill="#3a6cbf" stroke="#000" stroke-opacity="0.45" stroke-width="0.6"/>
<rect x="721" y="96.10" width="6.8" height="31.30" fill="#c6955a" stroke="#000" stroke-opacity="0.45" stroke-width="0.6"/>
<rect x="731" y="79.20" width="6.8" height="48.20" fill="#ea2f29" stroke="#000" stroke-opacity="0.45" stroke-width="0.6"/>
<rect x="741.1" y="47.30" width="6.8" height="80.10" fill="#3cb54a" stroke="#000" stroke-opacity="0.45" stroke-width="0.6"/>
<path d="M729.25,127.4 L729.25,130.9" fill="none" stroke="#262626" stroke-width="1" stroke-linejoin="round"/>
<text x="729.05" y="139.20000000000002" font-family="Liberation Sans" font-size="7.9" font-weight="bold" text-anchor="middle" fill="#262626" stroke="#262626" stroke-width="0.22" textLength="34.1" lengthAdjust="spacingAndGlyphs">Distal LNs</text>
<rect x="758" y="106.10" width="6.8" height="21.30" fill="#3a6cbf" stroke="#000" stroke-opacity="0.45" stroke-width="0.6"/>
<rect x="768.5" y="115.80" width="6.8" height="11.60" fill="#c6955a" stroke="#000" stroke-opacity="0.45" stroke-width="0.6"/>
<rect x="778.5" y="115.80" width="6.8" height="11.60" fill="#ea2f29" stroke="#000" stroke-opacity="0.45" stroke-width="0.6"/>
<rect x="788.5" y="104.80" width="6.8" height="22.60" fill="#3cb54a" stroke="#000" stroke-opacity="0.45" stroke-width="0.6"/>
<path d="M776.25,127.4 L776.25,130.9" fill="none" stroke="#262626" stroke-width="1" stroke-linejoin="round"/>
<text x="776.4" y="139.20000000000002" font-family="Liberation Sans" font-size="7.9" font-weight="bold" text-anchor="middle" fill="#262626" stroke="#262626" stroke-width="0.22" textLength="22.8" lengthAdjust="spacingAndGlyphs">Spleen</text>
<polygon points="665.0,110.16 666.8,112.5 665.0,114.84 663.2,112.5" fill="#000"/>
<polygon points="667.8,111.16 669.5999999999999,113.5 667.8,115.84 666.0,113.5" fill="#000"/>
<polygon points="666.4,112.16 668.1999999999999,114.5 666.4,116.84 664.6,114.5" fill="#000"/>
<circle cx="675.15" cy="114.1" r="1.8" fill="#000"/>
<circle cx="678.15" cy="115.7" r="1.8" fill="#000"/>
<circle cx="676.15" cy="118.7" r="1.8" fill="#000"/>
<polygon points="686.15,81.64 688.13,85.6 684.17,85.6" fill="#000"/>
<polygon points="688.65,82.34 690.63,86.3 686.67,86.3" fill="#000"/>
<polygon points="687.15,83.34 689.13,87.3 685.17,87.3" fill="#000"/>
<path d="M697.15,57 L697.15,47.6" fill="none" stroke="#111" stroke-width="0.8" stroke-linejoin="round"/>
<path d="M695.65,47.6 L698.65,47.6" fill="none" stroke="#111" stroke-width="0.8" stroke-linejoin="round"/>
<path d="M695.65,57 L698.65,57" fill="none" stroke="#111" stroke-width="0.8" stroke-linejoin="round"/>
<rect x="695.35" y="43.300000000000004" width="3.6" height="3.6" fill="#000"/>
<rect x="695.35" y="49.900000000000006" width="3.6" height="3.6" fill="#000"/>
<rect x="695.35" y="57.0" width="3.6" height="3.6" fill="#000"/>
<path d="M714.3,103.8 L714.3,90.6" fill="none" stroke="#111" stroke-width="0.8" stroke-linejoin="round"/>
<path d="M712.8,90.6 L715.8,90.6" fill="none" stroke="#111" stroke-width="0.8" stroke-linejoin="round"/>
<path d="M712.8,103.8 L715.8,103.8" fill="none" stroke="#111" stroke-width="0.8" stroke-linejoin="round"/>
<polygon points="714.3,85.86 716.0999999999999,88.2 714.3,90.54 712.5,88.2" fill="#000"/>
<polygon points="714.3,92.16 716.0999999999999,94.5 714.3,96.84 712.5,94.5" fill="#000"/>
<polygon points="714.3,105.16 716.0999999999999,107.5 714.3,109.84 712.5,107.5" fill="#000"/>
<path d="M724.4,101.6 L724.4,90.6" fill="none" stroke="#111" stroke-width="0.8" stroke-linejoin="round"/>
<path d="M722.9,90.6 L725.9,90.6" fill="none" stroke="#111" stroke-width="0.8" stroke-linejoin="round"/>
<path d="M722.9,101.6 L725.9,101.6" fill="none" stroke="#111" stroke-width="0.8" stroke-linejoin="round"/>
<circle cx="724.4" cy="87.7" r="1.8" fill="#000"/>
<circle cx="726.1" cy="98.8" r="1.8" fill="#000"/>
<circle cx="722.6999999999999" cy="100.9" r="1.8" fill="#000"/>
<path d="M734.4,83.4 L734.4,75.5" fill="none" stroke="#111" stroke-width="0.8" stroke-linejoin="round"/>
<path d="M732.9,75.5 L735.9,75.5" fill="none" stroke="#111" stroke-width="0.8" stroke-linejoin="round"/>
<path d="M732.9,83.4 L735.9,83.4" fill="none" stroke="#111" stroke-width="0.8" stroke-linejoin="round"/>
<polygon points="732.6,71.84 734.58,75.8 730.62,75.8" fill="#000"/>
<polygon points="736.4,73.34 738.38,77.3 734.42,77.3" fill="#000"/>
<polygon points="734.4,85.24000000000001 736.38,89.2 732.42,89.2" fill="#000"/>
<path d="M744.5,51 L744.5,43.5" fill="none" stroke="#111" stroke-width="0.8" stroke-linejoin="round"/>
<path d="M743.0,43.5 L746.0,43.5" fill="none" stroke="#111" stroke-width="0.8" stroke-linejoin="round"/>
<path d="M743.0,51 L746.0,51" fill="none" stroke="#111" stroke-width="0.8" stroke-linejoin="round"/>
<rect x="742.7" y="39.800000000000004" width="3.6" height="3.6" fill="#000"/>
<rect x="741.2" y="47.400000000000006" width="3.6" height="3.6" fill="#000"/>
<rect x="744.2" y="49.2" width="3.6" height="3.6" fill="#000"/>
<polygon points="759.6,100.25999999999999 761.4,102.6 759.6,104.94 757.8000000000001,102.6" fill="#000"/>
<polygon points="763.4,103.25999999999999 765.1999999999999,105.6 763.4,107.94 761.6,105.6" fill="#000"/>
<polygon points="759.9,104.25999999999999 761.6999999999999,106.6 759.9,108.94 758.1,106.6" fill="#000"/>
<circle cx="771.0" cy="112.2" r="1.8" fill="#000"/>
<circle cx="773.1" cy="113.7" r="1.8" fill="#000"/>
<circle cx="769.6999999999999" cy="114.8" r="1.8" fill="#000"/>
<polygon points="781.5,111.04 783.48,115.0 779.52,115.0" fill="#000"/>
<polygon points="783.9,112.14 785.88,116.1 781.92,116.1" fill="#000"/>
<polygon points="779.6999999999999,115.14 781.68,119.1 777.7199999999999,119.1" fill="#000"/>
<path d="M791.9,108 L791.9,101.5" fill="none" stroke="#111" stroke-width="0.8" stroke-linejoin="round"/>
<path d="M790.4,101.5 L793.4,101.5" fill="none" stroke="#111" stroke-width="0.8" stroke-linejoin="round"/>
<path d="M790.4,108 L793.4,108" fill="none" stroke="#111" stroke-width="0.8" stroke-linejoin="round"/>
<rect x="788.1" y="100.7" width="3.6" height="3.6" fill="#000"/>
<rect x="791.6" y="101.7" width="3.6" height="3.6" fill="#000"/>
<rect x="789.3000000000001" y="109.4" width="3.6" height="3.6" fill="#000"/>
<path d="M672.5,41.5 L688.5,41.5" fill="none" stroke="#555" stroke-width="1.2" stroke-linejoin="miter" stroke-linecap="square"/>
<path d="M681.5,41.5 L681.5,36.5 L695.5,36.5 L695.5,41.5" fill="none" stroke="#484848" stroke-width="1" stroke-linejoin="miter" stroke-linecap="square"/>
<path d="M677.5,74.5 L677.5,72.5 L686.5,72.5 L686.5,74.5" fill="none" stroke="#484848" stroke-width="1" stroke-linejoin="miter" stroke-linecap="square"/>
<path d="M721.5,35.5 L737.5,35.5" fill="none" stroke="#555" stroke-width="1.2" stroke-linejoin="miter" stroke-linecap="square"/>
<path d="M731.5,35.5 L731.5,30.5 L744.5,30.5 L744.5,35.5" fill="none" stroke="#484848" stroke-width="1" stroke-linejoin="miter" stroke-linecap="square"/>
<path d="M723.5,68.5 L723.5,65.5 L733.5,65.5 L733.5,68.5" fill="none" stroke="#484848" stroke-width="1" stroke-linejoin="miter" stroke-linecap="square"/>
<polygon points="683.75,30.40 684.40,31.71 685.84,31.92 684.80,32.94 685.04,34.38 683.75,33.70 682.46,34.38 682.70,32.94 681.66,31.92 683.10,31.71" fill="#333"/><polygon points="688.25,30.40 688.90,31.71 690.34,31.92 689.30,32.94 689.54,34.38 688.25,33.70 686.96,34.38 687.20,32.94 686.16,31.92 687.60,31.71" fill="#333"/><polygon points="692.75,30.40 693.40,31.71 694.84,31.92 693.80,32.94 694.04,34.38 692.75,33.70 691.46,34.38 691.70,32.94 690.66,31.92 692.10,31.71" fill="#333"/><polygon points="697.25,30.40 697.90,31.71 699.34,31.92 698.30,32.94 698.54,34.38 697.25,33.70 695.96,34.38 696.20,32.94 695.16,31.92 696.60,31.71" fill="#333"/>
<polygon points="675.05,65.70 675.70,67.01 677.14,67.22 676.10,68.24 676.34,69.68 675.05,69.00 673.76,69.68 674.00,68.24 672.96,67.22 674.40,67.01" fill="#333"/><polygon points="679.55,65.70 680.20,67.01 681.64,67.22 680.60,68.24 680.84,69.68 679.55,69.00 678.26,69.68 678.50,68.24 677.46,67.22 678.90,67.01" fill="#333"/><polygon points="684.05,65.70 684.70,67.01 686.14,67.22 685.10,68.24 685.34,69.68 684.05,69.00 682.76,69.68 683.00,68.24 681.96,67.22 683.40,67.01" fill="#333"/><polygon points="688.55,65.70 689.20,67.01 690.64,67.22 689.60,68.24 689.84,69.68 688.55,69.00 687.26,69.68 687.50,68.24 686.46,67.22 687.90,67.01" fill="#333"/>
<polygon points="734.15,24.60 734.80,25.91 736.24,26.12 735.20,27.14 735.44,28.58 734.15,27.90 732.86,28.58 733.10,27.14 732.06,26.12 733.50,25.91" fill="#333"/><polygon points="738.65,24.60 739.30,25.91 740.74,26.12 739.70,27.14 739.94,28.58 738.65,27.90 737.36,28.58 737.60,27.14 736.56,26.12 738.00,25.91" fill="#333"/><polygon points="743.15,24.60 743.80,25.91 745.24,26.12 744.20,27.14 744.44,28.58 743.15,27.90 741.86,28.58 742.10,27.14 741.06,26.12 742.50,25.91" fill="#333"/><polygon points="747.65,24.60 748.30,25.91 749.74,26.12 748.70,27.14 748.94,28.58 747.65,27.90 746.36,28.58 746.60,27.14 745.56,26.12 747.00,25.91" fill="#333"/>
<polygon points="727.60,58.60 728.25,59.91 729.69,60.12 728.65,61.14 728.89,62.58 727.60,61.90 726.31,62.58 726.55,61.14 725.51,60.12 726.95,59.91" fill="#333"/>
<text x="635.3" y="79.5" font-family="Liberation Sans" font-size="6.5" font-weight="bold" text-anchor="middle" fill="#262626" stroke="#262626" stroke-width="0.22" textLength="51.6" lengthAdjust="spacing" transform="rotate(-90 635.3 79.5)">% CD73+ among</text>
<text x="643.3" y="79" font-family="Liberation Sans" font-size="6.5" font-weight="bold" text-anchor="middle" fill="#262626" stroke="#262626" stroke-width="0.22" textLength="68.5" lengthAdjust="spacing" transform="rotate(-90 643.3 79)">CD45.2+ CD4+ T cells</text>
<text transform="translate(622.3 28.4) scale(0.92 1)" font-family="Liberation Sans" font-size="25" font-weight="bold" fill="#111">G</text>
<path d="M61.0,266.0 L65.2,266.0" fill="none" stroke="#262626" stroke-width="1" stroke-linejoin="round"/>
<text transform="translate(60.00 268.60) scale(0.93 1)" font-family="Liberation Sans" font-size="7.5" font-weight="bold" text-anchor="end" fill="#262626" stroke="#262626" stroke-width="0.22">0.0</text>
<path d="M61.0,249.92 L65.2,249.92" fill="none" stroke="#262626" stroke-width="1" stroke-linejoin="round"/>
<text transform="translate(60.00 252.52) scale(0.93 1)" font-family="Liberation Sans" font-size="7.5" font-weight="bold" text-anchor="end" fill="#262626" stroke="#262626" stroke-width="0.22">0.2</text>
<path d="M61.0,233.84 L65.2,233.84" fill="none" stroke="#262626" stroke-width="1" stroke-linejoin="round"/>
<text transform="translate(60.00 236.44) scale(0.93 1)" font-family="Liberation Sans" font-size="7.5" font-weight="bold" text-anchor="end" fill="#262626" stroke="#262626" stroke-width="0.22">0.4</text>
<path d="M61.0,217.76 L65.2,217.76" fill="none" stroke="#262626" stroke-width="1" stroke-linejoin="round"/>
<text transform="translate(60.00 220.36) scale(0.93 1)" font-family="Liberation Sans" font-size="7.5" font-weight="bold" text-anchor="end" fill="#262626" stroke="#262626" stroke-width="0.22">0.6</text>
<path d="M61.0,201.68 L65.2,201.68" fill="none" stroke="#262626" stroke-width="1" stroke-linejoin="round"/>
<text transform="translate(60.00 204.28) scale(0.93 1)" font-family="Liberation Sans" font-size="7.5" font-weight="bold" text-anchor="end" fill="#262626" stroke="#262626" stroke-width="0.22">0.8</text>
<path d="M61.0,185.6 L65.2,185.6" fill="none" stroke="#262626" stroke-width="1" stroke-linejoin="round"/>
<text transform="translate(60.00 188.20) scale(0.93 1)" font-family="Liberation Sans" font-size="7.5" font-weight="bold" text-anchor="end" fill="#262626" stroke="#262626" stroke-width="0.22">1.0</text>
<path d="M61.0,169.51999999999998 L65.2,169.51999999999998" fill="none" stroke="#262626" stroke-width="1" stroke-linejoin="round"/>
<text transform="translate(60.00 172.12) scale(0.93 1)" font-family="Liberation Sans" font-size="7.5" font-weight="bold" text-anchor="end" fill="#262626" stroke="#262626" stroke-width="0.22">1.2</text>
<path d="M65.2,169.01999999999998 L65.2,266.5" fill="none" stroke="#262626" stroke-width="1.1" stroke-linejoin="round"/>
<path d="M64.7,266 L209,266" fill="none" stroke="#262626" stroke-width="1.1" stroke-linejoin="round"/>
<rect x="68.75" y="252.80" width="6.8" height="13.20" fill="#3a6cbf" stroke="#000" stroke-opacity="0.45" stroke-width="0.6"/>
<rect x="79.5" y="242.00" width="6.8" height="24.00" fill="#c6955a" stroke="#000" stroke-opacity="0.45" stroke-width="0.6"/>
<rect x="90" y="181.60" width="6.8" height="84.40" fill="#ea2f29" stroke="#000" stroke-opacity="0.45" stroke-width="0.6"/>
<rect x="100" y="175.80" width="6.8" height="90.20" fill="#3cb54a" stroke="#000" stroke-opacity="0.45" stroke-width="0.6"/>
<path d="M87.5,266 L87.5,269.5" fill="none" stroke="#262626" stroke-width="1" stroke-linejoin="round"/>
<text x="87.9" y="277.5" font-family="Liberation Sans" font-size="7.9" font-weight="bold" text-anchor="middle" fill="#262626" stroke="#262626" stroke-width="0.22" textLength="44" lengthAdjust="spacingAndGlyphs">Draining LNs</text>
<rect x="117.5" y="252.90" width="6.8" height="13.10" fill="#3a6cbf" stroke="#000" stroke-opacity="0.45" stroke-width="0.6"/>
<rect x="128.25" y="242.60" width="6.8" height="23.40" fill="#c6955a" stroke="#000" stroke-opacity="0.45" stroke-width="0.6"/>
<rect x="138.75" y="204.00" width="6.8" height="62.00" fill="#ea2f29" stroke="#000" stroke-opacity="0.45" stroke-width="0.6"/>
<rect x="149.25" y="211.60" width="6.8" height="54.40" fill="#3cb54a" stroke="#000" stroke-opacity="0.45" stroke-width="0.6"/>
<path d="M136.75,266 L136.75,269.5" fill="none" stroke="#262626" stroke-width="1" stroke-linejoin="round"/>
<text x="137" y="277.5" font-family="Liberation Sans" font-size="7.9" font-weight="bold" text-anchor="middle" fill="#262626" stroke="#262626" stroke-width="0.22" textLength="34.2" lengthAdjust="spacingAndGlyphs">Distal LNs</text>
<rect x="167" y="262.00" width="6.8" height="4.00" fill="#3a6cbf" stroke="#000" stroke-opacity="0.45" stroke-width="0.6"/>
<rect x="177.25" y="238.40" width="6.8" height="27.60" fill="#c6955a" stroke="#000" stroke-opacity="0.45" stroke-width="0.6"/>
<rect x="187.5" y="220.70" width="6.8" height="45.30" fill="#ea2f29" stroke="#000" stroke-opacity="0.45" stroke-width="0.6"/>
<rect x="198" y="220.10" width="6.8" height="45.90" fill="#3cb54a" stroke="#000" stroke-opacity="0.45" stroke-width="0.6"/>
<path d="M185.75,266 L185.75,269.5" fill="none" stroke="#262626" stroke-width="1" stroke-linejoin="round"/>
<text x="185.65" y="277.5" font-family="Liberation Sans" font-size="7.9" font-weight="bold" text-anchor="middle" fill="#262626" stroke="#262626" stroke-width="0.22" textLength="23.5" lengthAdjust="spacingAndGlyphs">Spleen</text>
<polygon points="70.65,249.85999999999999 72.45,252.2 70.65,254.54 68.85000000000001,252.2" fill="#000"/>
<polygon points="72.15,249.16 73.95,251.5 72.15,253.84 70.35000000000001,251.5" fill="#000"/>
<polygon points="73.65,249.85999999999999 75.45,252.2 73.65,254.54 71.85000000000001,252.2" fill="#000"/>
<path d="M82.9,243.2 L82.9,240.8" fill="none" stroke="#111" stroke-width="0.8" stroke-linejoin="round"/>
<path d="M81.4,240.8 L84.4,240.8" fill="none" stroke="#111" stroke-width="0.8" stroke-linejoin="round"/>
<path d="M81.4,243.2 L84.4,243.2" fill="none" stroke="#111" stroke-width="0.8" stroke-linejoin="round"/>
<circle cx="82.9" cy="235.4" r="1.8" fill="#000"/>
<circle cx="82.9" cy="239" r="1.8" fill="#000"/>
<circle cx="82.9" cy="249.2" r="1.8" fill="#000"/>
<path d="M93.4,188.6 L93.4,174.6" fill="none" stroke="#111" stroke-width="0.8" stroke-linejoin="round"/>
<path d="M91.9,174.6 L94.9,174.6" fill="none" stroke="#111" stroke-width="0.8" stroke-linejoin="round"/>
<path d="M91.9,188.6 L94.9,188.6" fill="none" stroke="#111" stroke-width="0.8" stroke-linejoin="round"/>
<polygon points="93.4,169.24 95.38000000000001,173.20000000000002 91.42,173.20000000000002" fill="#000"/>
<polygon points="93.4,174.04 95.38000000000001,178.0 91.42,178.0" fill="#000"/>
<polygon points="93.4,194.44 95.38000000000001,198.4 91.42,198.4" fill="#000"/>
<rect x="100.2" y="174.7" width="3.6" height="3.6" fill="#000"/>
<rect x="103.2" y="176.7" width="3.6" height="3.6" fill="#000"/>
<rect x="100.2" y="178.39999999999998" width="3.6" height="3.6" fill="#000"/>
<path d="M120.9,257 L120.9,248.7" fill="none" stroke="#111" stroke-width="0.8" stroke-linejoin="round"/>
<path d="M119.4,248.7 L122.4,248.7" fill="none" stroke="#111" stroke-width="0.8" stroke-linejoin="round"/>
<path d="M119.4,257 L122.4,257" fill="none" stroke="#111" stroke-width="0.8" stroke-linejoin="round"/>
<polygon points="120.9,242.66 122.7,245 120.9,247.34 119.10000000000001,245" fill="#000"/>
<polygon points="122.7,252.96 124.5,255.3 122.7,257.64 120.9,255.3" fill="#000"/>
<polygon points="119.10000000000001,255.05999999999997 120.9,257.4 119.10000000000001,259.73999999999995 117.30000000000001,257.4" fill="#000"/>
<circle cx="133.15" cy="242.4" r="1.8" fill="#000"/>
<circle cx="130.45000000000002" cy="245" r="1.8" fill="#000"/>
<circle cx="132.15" cy="243.8" r="1.8" fill="#000"/>
<path d="M142.15,208 L142.15,200" fill="none" stroke="#111" stroke-width="0.8" stroke-linejoin="round"/>
<path d="M140.65,200 L143.65,200" fill="none" stroke="#111" stroke-width="0.8" stroke-linejoin="round"/>
<path d="M140.65,208 L143.65,208" fill="none" stroke="#111" stroke-width="0.8" stroke-linejoin="round"/>
<polygon points="140.45000000000002,195.44 142.43,199.4 138.47000000000003,199.4" fill="#000"/>
<polygon points="143.65,199.24 145.63,203.20000000000002 141.67000000000002,203.20000000000002" fill="#000"/>
<polygon points="142.15,211.34 144.13,215.3 140.17000000000002,215.3" fill="#000"/>
<path d="M152.65,219.9 L152.65,203.3" fill="none" stroke="#111" stroke-width="0.8" stroke-linejoin="round"/>
<path d="M151.15,203.3 L154.15,203.3" fill="none" stroke="#111" stroke-width="0.8" stroke-linejoin="round"/>
<path d="M151.15,219.9 L154.15,219.9" fill="none" stroke="#111" stroke-width="0.8" stroke-linejoin="round"/>
<rect x="150.85" y="194.29999999999998" width="3.6" height="3.6" fill="#000"/>
<rect x="150.85" y="214.7" width="3.6" height="3.6" fill="#000"/>
<rect x="150.85" y="217.0" width="3.6" height="3.6" fill="#000"/>
<polygon points="168.9,259.06 170.70000000000002,261.4 168.9,263.73999999999995 167.1,261.4" fill="#000"/>
<polygon points="170.4,258.46000000000004 172.20000000000002,260.8 170.4,263.14 168.6,260.8" fill="#000"/>
<polygon points="171.9,259.06 173.70000000000002,261.4 171.9,263.73999999999995 170.1,261.4" fill="#000"/>
<circle cx="179.15" cy="238.5" r="1.8" fill="#000"/>
<circle cx="182.15" cy="238.5" r="1.8" fill="#000"/>
<circle cx="180.65" cy="242.3" r="1.8" fill="#000"/>
<path d="M190.9,223.6 L190.9,217.8" fill="none" stroke="#111" stroke-width="0.8" stroke-linejoin="round"/>
<path d="M189.4,217.8 L192.4,217.8" fill="none" stroke="#111" stroke-width="0.8" stroke-linejoin="round"/>
<path d="M189.4,223.6 L192.4,223.6" fill="none" stroke="#111" stroke-width="0.8" stroke-linejoin="round"/>
<polygon points="190.9,211.74 192.88,215.70000000000002 188.92000000000002,215.70000000000002" fill="#000"/>
<polygon points="190.9,221.54 192.88,225.5 188.92000000000002,225.5" fill="#000"/>
<polygon points="190.9,226.44 192.88,230.4 188.92000000000002,230.4" fill="#000"/>
<path d="M201.4,223.4 L201.4,216.8" fill="none" stroke="#111" stroke-width="0.8" stroke-linejoin="round"/>
<path d="M199.9,216.8 L202.9,216.8" fill="none" stroke="#111" stroke-width="0.8" stroke-linejoin="round"/>
<path d="M199.9,223.4 L202.9,223.4" fill="none" stroke="#111" stroke-width="0.8" stroke-linejoin="round"/>
<rect x="199.6" y="211.1" width="3.6" height="3.6" fill="#000"/>
<rect x="198.1" y="220.7" width="3.6" height="3.6" fill="#000"/>
<rect x="201.1" y="221.7" width="3.6" height="3.6" fill="#000"/>
<path d="M84.5,167.5 L84.5,164.5 L98.5,164.5 L98.5,166.5" fill="none" stroke="#484848" stroke-width="1" stroke-linejoin="miter" stroke-linecap="square"/>
<path d="M91.5,167.5 L106.5,167.5" fill="none" stroke="#666" stroke-width="1.2" stroke-linejoin="miter" stroke-linecap="square"/>
<path d="M131.5,180.5 L131.5,177.5 L153.5,177.5 L153.5,180.5" fill="none" stroke="#484848" stroke-width="1" stroke-linejoin="miter" stroke-linecap="square"/>
<path d="M131.5,194.5 L131.5,191.5 L140.5,191.5 L140.5,194.5" fill="none" stroke="#484848" stroke-width="1" stroke-linejoin="miter" stroke-linecap="square"/>
<path d="M181.5,203.5 L181.5,201.5 L196.5,201.5 L196.5,203.5" fill="none" stroke="#484848" stroke-width="1" stroke-linejoin="miter" stroke-linecap="square"/>
<path d="M189.5,203.5 L203.5,203.5" fill="none" stroke="#666" stroke-width="1.2" stroke-linejoin="miter" stroke-linecap="square"/>
<polygon points="84.65,158.90 85.30,160.21 86.74,160.42 85.70,161.44 85.94,162.88 84.65,162.20 83.36,162.88 83.60,161.44 82.56,160.42 84.00,160.21" fill="#333"/><polygon points="89.15,158.90 89.80,160.21 91.24,160.42 90.20,161.44 90.44,162.88 89.15,162.20 87.86,162.88 88.10,161.44 87.06,160.42 88.50,160.21" fill="#333"/><polygon points="93.65,158.90 94.30,160.21 95.74,160.42 94.70,161.44 94.94,162.88 93.65,162.20 92.36,162.88 92.60,161.44 91.56,160.42 93.00,160.21" fill="#333"/><polygon points="98.15,158.90 98.80,160.21 100.24,160.42 99.20,161.44 99.44,162.88 98.15,162.20 96.86,162.88 97.10,161.44 96.06,160.42 97.50,160.21" fill="#333"/>
<polygon points="136.50,170.60 137.15,171.91 138.59,172.12 137.55,173.14 137.79,174.58 136.50,173.90 135.21,174.58 135.45,173.14 134.41,172.12 135.85,171.91" fill="#333"/><polygon points="141.00,170.60 141.65,171.91 143.09,172.12 142.05,173.14 142.29,174.58 141.00,173.90 139.71,174.58 139.95,173.14 138.91,172.12 140.35,171.91" fill="#333"/><polygon points="145.50,170.60 146.15,171.91 147.59,172.12 146.55,173.14 146.79,174.58 145.50,173.90 144.21,174.58 144.45,173.14 143.41,172.12 144.85,171.91" fill="#333"/>
<polygon points="130.35,185.60 131.00,186.91 132.44,187.12 131.40,188.14 131.64,189.58 130.35,188.90 129.06,189.58 129.30,188.14 128.26,187.12 129.70,186.91" fill="#333"/><polygon points="134.85,185.60 135.50,186.91 136.94,187.12 135.90,188.14 136.14,189.58 134.85,188.90 133.56,189.58 133.80,188.14 132.76,187.12 134.20,186.91" fill="#333"/><polygon points="139.35,185.60 140.00,186.91 141.44,187.12 140.40,188.14 140.64,189.58 139.35,188.90 138.06,189.58 138.30,188.14 137.26,187.12 138.70,186.91" fill="#333"/><polygon points="143.85,185.60 144.50,186.91 145.94,187.12 144.90,188.14 145.14,189.58 143.85,188.90 142.56,189.58 142.80,188.14 141.76,187.12 143.20,186.91" fill="#333"/>
<text x="37.7" y="217.5" font-family="Liberation Sans" font-size="6.5" font-weight="bold" text-anchor="middle" fill="#262626" stroke="#262626" stroke-width="0.22" textLength="73" lengthAdjust="spacing" transform="rotate(-90 37.7 217.5)">% CD45.2 CD4+ T cells</text>
<text x="45.2" y="217.25" font-family="Liberation Sans" font-size="6.5" font-weight="bold" text-anchor="middle" fill="#262626" stroke="#262626" stroke-width="0.22" textLength="81.3" lengthAdjust="spacing" transform="rotate(-90 45.2 217.25)">among total CD4+ T cells</text>
<text transform="translate(16.8 170.2) scale(0.92 1)" font-family="Liberation Sans" font-size="25" font-weight="bold" fill="#111">B</text>
<path d="M260.90000000000003,265.3 L265.1,265.3" fill="none" stroke="#262626" stroke-width="1" stroke-linejoin="round"/>
<text transform="translate(259.90 267.90) scale(0.93 1)" font-family="Liberation Sans" font-size="7.5" font-weight="bold" text-anchor="end" fill="#262626" stroke="#262626" stroke-width="0.22">0</text>
<path d="M260.90000000000003,246.34 L265.1,246.34" fill="none" stroke="#262626" stroke-width="1" stroke-linejoin="round"/>
<text transform="translate(259.90 248.94) scale(0.93 1)" font-family="Liberation Sans" font-size="7.5" font-weight="bold" text-anchor="end" fill="#262626" stroke="#262626" stroke-width="0.22">20</text>
<path d="M260.90000000000003,227.38 L265.1,227.38" fill="none" stroke="#262626" stroke-width="1" stroke-linejoin="round"/>
<text transform="translate(259.90 229.98) scale(0.93 1)" font-family="Liberation Sans" font-size="7.5" font-weight="bold" text-anchor="end" fill="#262626" stroke="#262626" stroke-width="0.22">40</text>
<path d="M260.90000000000003,208.42000000000002 L265.1,208.42000000000002" fill="none" stroke="#262626" stroke-width="1" stroke-linejoin="round"/>
<text transform="translate(259.90 211.02) scale(0.93 1)" font-family="Liberation Sans" font-size="7.5" font-weight="bold" text-anchor="end" fill="#262626" stroke="#262626" stroke-width="0.22">60</text>
<path d="M260.90000000000003,189.46 L265.1,189.46" fill="none" stroke="#262626" stroke-width="1" stroke-linejoin="round"/>
<text transform="translate(259.90 192.06) scale(0.93 1)" font-family="Liberation Sans" font-size="7.5" font-weight="bold" text-anchor="end" fill="#262626" stroke="#262626" stroke-width="0.22">80</text>
<path d="M260.90000000000003,170.5 L265.1,170.5" fill="none" stroke="#262626" stroke-width="1" stroke-linejoin="round"/>
<text transform="translate(259.90 173.10) scale(0.93 1)" font-family="Liberation Sans" font-size="7.5" font-weight="bold" text-anchor="end" fill="#262626" stroke="#262626" stroke-width="0.22">100</text>
<path d="M265.1,170.0 L265.1,265.8" fill="none" stroke="#262626" stroke-width="1.1" stroke-linejoin="round"/>
<path d="M264.6,265.3 L410,265.3" fill="none" stroke="#262626" stroke-width="1.1" stroke-linejoin="round"/>
<rect x="268.25" y="258.20" width="6.8" height="7.10" fill="#3a6cbf" stroke="#000" stroke-opacity="0.45" stroke-width="0.6"/>
<rect x="279.5" y="180.70" width="6.8" height="84.60" fill="#c6955a" stroke="#000" stroke-opacity="0.45" stroke-width="0.6"/>
<rect x="290" y="171.00" width="6.8" height="94.30" fill="#ea2f29" stroke="#000" stroke-opacity="0.45" stroke-width="0.6"/>
<rect x="300.5" y="170.00" width="6.8" height="95.30" fill="#3cb54a" stroke="#000" stroke-opacity="0.45" stroke-width="0.6"/>
<path d="M287.5,265.3 L287.5,268.8" fill="none" stroke="#262626" stroke-width="1" stroke-linejoin="round"/>
<text x="287.85" y="277.0" font-family="Liberation Sans" font-size="7.9" font-weight="bold" text-anchor="middle" fill="#262626" stroke="#262626" stroke-width="0.22" textLength="44.7" lengthAdjust="spacingAndGlyphs">Draining LNs</text>
<rect x="318.25" y="236.20" width="6.8" height="29.10" fill="#3a6cbf" stroke="#000" stroke-opacity="0.45" stroke-width="0.6"/>
<rect x="328.75" y="177.00" width="6.8" height="88.30" fill="#c6955a" stroke="#000" stroke-opacity="0.45" stroke-width="0.6"/>
<rect x="339.5" y="170.75" width="6.8" height="94.55" fill="#ea2f29" stroke="#000" stroke-opacity="0.45" stroke-width="0.6"/>
<rect x="350" y="169.25" width="6.8" height="96.05" fill="#3cb54a" stroke="#000" stroke-opacity="0.45" stroke-width="0.6"/>
<path d="M337.5,265.3 L337.5,268.8" fill="none" stroke="#262626" stroke-width="1" stroke-linejoin="round"/>
<text x="337.45" y="277.0" font-family="Liberation Sans" font-size="7.9" font-weight="bold" text-anchor="middle" fill="#262626" stroke="#262626" stroke-width="0.22" textLength="35.1" lengthAdjust="spacingAndGlyphs">Distal LNs</text>
<rect x="367.5" y="255.80" width="6.8" height="9.50" fill="#3a6cbf" stroke="#000" stroke-opacity="0.45" stroke-width="0.6"/>
<rect x="378.25" y="178.40" width="6.8" height="86.90" fill="#c6955a" stroke="#000" stroke-opacity="0.45" stroke-width="0.6"/>
<rect x="389.25" y="171.20" width="6.8" height="94.10" fill="#ea2f29" stroke="#000" stroke-opacity="0.45" stroke-width="0.6"/>
<rect x="400" y="170.70" width="6.8" height="94.60" fill="#3cb54a" stroke="#000" stroke-opacity="0.45" stroke-width="0.6"/>
<path d="M386.75,265.3 L386.75,268.8" fill="none" stroke="#262626" stroke-width="1" stroke-linejoin="round"/>
<text x="386.85" y="277.0" font-family="Liberation Sans" font-size="7.9" font-weight="bold" text-anchor="middle" fill="#262626" stroke="#262626" stroke-width="0.22" textLength="23.3" lengthAdjust="spacingAndGlyphs">Spleen</text>
<path d="M271.65,259.5 L271.65,256.9" fill="none" stroke="#111" stroke-width="0.8" stroke-linejoin="round"/>
<path d="M270.15,256.9 L273.15,256.9" fill="none" stroke="#111" stroke-width="0.8" stroke-linejoin="round"/>
<path d="M270.15,259.5 L273.15,259.5" fill="none" stroke="#111" stroke-width="0.8" stroke-linejoin="round"/>
<polygon points="271.65,253.16 273.45,255.5 271.65,257.84 269.84999999999997,255.5" fill="#000"/>
<polygon points="269.65,258.06 271.45,260.4 269.65,262.73999999999995 267.84999999999997,260.4" fill="#000"/>
<polygon points="273.54999999999995,257.66 275.34999999999997,260 273.54999999999995,262.34 271.74999999999994,260" fill="#000"/>
<circle cx="281.0" cy="176.2" r="1.8" fill="#000"/>
<circle cx="284.5" cy="178.7" r="1.8" fill="#000"/>
<circle cx="281.5" cy="180.7" r="1.8" fill="#000"/>
<polygon points="291.9,168.84 293.88,172.8 289.91999999999996,172.8" fill="#000"/>
<polygon points="294.9,168.84 296.88,172.8 292.91999999999996,172.8" fill="#000"/>
<polygon points="293.4,169.34 295.38,173.3 291.41999999999996,173.3" fill="#000"/>
<rect x="300.59999999999997" y="168.7" width="3.6" height="3.6" fill="#000"/>
<rect x="303.59999999999997" y="168.7" width="3.6" height="3.6" fill="#000"/>
<rect x="302.09999999999997" y="169.2" width="3.6" height="3.6" fill="#000"/>
<path d="M321.65,246.8 L321.65,225.6" fill="none" stroke="#111" stroke-width="0.8" stroke-linejoin="round"/>
<path d="M320.15,225.6 L323.15,225.6" fill="none" stroke="#111" stroke-width="0.8" stroke-linejoin="round"/>
<path d="M320.15,246.8 L323.15,246.8" fill="none" stroke="#111" stroke-width="0.8" stroke-linejoin="round"/>
<polygon points="321.65,212.46 323.45,214.8 321.65,217.14000000000001 319.84999999999997,214.8" fill="#000"/>
<polygon points="321.65,239.16 323.45,241.5 321.65,243.84 319.84999999999997,241.5" fill="#000"/>
<polygon points="321.65,248.76 323.45,251.1 321.65,253.44 319.84999999999997,251.1" fill="#000"/>
<circle cx="330.65" cy="176" r="1.8" fill="#000"/>
<circle cx="333.65" cy="176" r="1.8" fill="#000"/>
<circle cx="332.15" cy="177.2" r="1.8" fill="#000"/>
<polygon points="341.4,168.64000000000001 343.38,172.60000000000002 339.41999999999996,172.60000000000002" fill="#000"/>
<polygon points="344.4,168.64000000000001 346.38,172.60000000000002 342.41999999999996,172.60000000000002" fill="#000"/>
<polygon points="342.9,169.04 344.88,173.0 340.91999999999996,173.0" fill="#000"/>
<rect x="350.09999999999997" y="168.79999999999998" width="3.6" height="3.6" fill="#000"/>
<rect x="353.09999999999997" y="168.79999999999998" width="3.6" height="3.6" fill="#000"/>
<rect x="351.59999999999997" y="169.2" width="3.6" height="3.6" fill="#000"/>
<path d="M370.9,257.8 L370.9,253.8" fill="none" stroke="#111" stroke-width="0.8" stroke-linejoin="round"/>
<path d="M369.4,253.8 L372.4,253.8" fill="none" stroke="#111" stroke-width="0.8" stroke-linejoin="round"/>
<path d="M369.4,257.8 L372.4,257.8" fill="none" stroke="#111" stroke-width="0.8" stroke-linejoin="round"/>
<polygon points="370.9,249.66 372.7,252 370.9,254.34 369.09999999999997,252" fill="#000"/>
<polygon points="368.5,254.55999999999997 370.3,256.9 368.5,259.23999999999995 366.7,256.9" fill="#000"/>
<polygon points="373.0,254.55999999999997 374.8,256.9 373.0,259.23999999999995 371.2,256.9" fill="#000"/>
<circle cx="380.04999999999995" cy="175.1" r="1.8" fill="#000"/>
<circle cx="383.45" cy="177" r="1.8" fill="#000"/>
<circle cx="380.04999999999995" cy="180.2" r="1.8" fill="#000"/>
<polygon points="391.15,169.04 393.13,173.0 389.16999999999996,173.0" fill="#000"/>
<polygon points="394.15,169.04 396.13,173.0 392.16999999999996,173.0" fill="#000"/>
<polygon points="392.65,169.34 394.63,173.3 390.66999999999996,173.3" fill="#000"/>
<rect x="400.09999999999997" y="168.89999999999998" width="3.6" height="3.6" fill="#000"/>
<rect x="403.09999999999997" y="168.89999999999998" width="3.6" height="3.6" fill="#000"/>
<rect x="401.59999999999997" y="169.2" width="3.6" height="3.6" fill="#000"/>
<path d="M273.5,160.5 L273.5,158.5 L282.5,158.5 L282.5,160.5" fill="none" stroke="#484848" stroke-width="1" stroke-linejoin="miter" stroke-linecap="square"/>
<path d="M278.5,161.5 L308.5,161.5" fill="none" stroke="#999" stroke-width="1.2" stroke-linejoin="miter" stroke-linecap="square"/>
<path d="M323.5,162.5 L323.5,159.5 L333.5,159.5 L333.5,162.5" fill="none" stroke="#484848" stroke-width="1" stroke-linejoin="miter" stroke-linecap="square"/>
<path d="M327.5,163.5 L358.5,163.5" fill="none" stroke="#999" stroke-width="1.2" stroke-linejoin="miter" stroke-linecap="square"/>
<path d="M372.5,163.5 L372.5,161.5 L381.5,161.5 L381.5,163.5" fill="none" stroke="#484848" stroke-width="1" stroke-linejoin="miter" stroke-linecap="square"/>
<path d="M376.5,164.5 L407.5,164.5" fill="none" stroke="#999" stroke-width="1.2" stroke-linejoin="miter" stroke-linecap="square"/>
<polygon points="272.55,151.25 273.20,152.56 274.64,152.77 273.60,153.79 273.84,155.23 272.55,154.55 271.26,155.23 271.50,153.79 270.46,152.77 271.90,152.56" fill="#333"/><polygon points="277.05,151.25 277.70,152.56 279.14,152.77 278.10,153.79 278.34,155.23 277.05,154.55 275.76,155.23 276.00,153.79 274.96,152.77 276.40,152.56" fill="#333"/><polygon points="281.55,151.25 282.20,152.56 283.64,152.77 282.60,153.79 282.84,155.23 281.55,154.55 280.26,155.23 280.50,153.79 279.46,152.77 280.90,152.56" fill="#333"/><polygon points="286.05,151.25 286.70,152.56 288.14,152.77 287.10,153.79 287.34,155.23 286.05,154.55 284.76,155.23 285.00,153.79 283.96,152.77 285.40,152.56" fill="#333"/>
<polygon points="322.00,153.10 322.65,154.41 324.09,154.62 323.05,155.64 323.29,157.08 322.00,156.40 320.71,157.08 320.95,155.64 319.91,154.62 321.35,154.41" fill="#333"/><polygon points="326.50,153.10 327.15,154.41 328.59,154.62 327.55,155.64 327.79,157.08 326.50,156.40 325.21,157.08 325.45,155.64 324.41,154.62 325.85,154.41" fill="#333"/><polygon points="331.00,153.10 331.65,154.41 333.09,154.62 332.05,155.64 332.29,157.08 331.00,156.40 329.71,157.08 329.95,155.64 328.91,154.62 330.35,154.41" fill="#333"/><polygon points="335.50,153.10 336.15,154.41 337.59,154.62 336.55,155.64 336.79,157.08 335.50,156.40 334.21,157.08 334.45,155.64 333.41,154.62 334.85,154.41" fill="#333"/>
<polygon points="371.15,155.00 371.80,156.31 373.24,156.52 372.20,157.54 372.44,158.98 371.15,158.30 369.86,158.98 370.10,157.54 369.06,156.52 370.50,156.31" fill="#333"/><polygon points="375.65,155.00 376.30,156.31 377.74,156.52 376.70,157.54 376.94,158.98 375.65,158.30 374.36,158.98 374.60,157.54 373.56,156.52 375.00,156.31" fill="#333"/><polygon points="380.15,155.00 380.80,156.31 382.24,156.52 381.20,157.54 381.44,158.98 380.15,158.30 378.86,158.98 379.10,157.54 378.06,156.52 379.50,156.31" fill="#333"/><polygon points="384.65,155.00 385.30,156.31 386.74,156.52 385.70,157.54 385.94,158.98 384.65,158.30 383.36,158.98 383.60,157.54 382.56,156.52 384.00,156.31" fill="#333"/>
<text x="236.3" y="217.9" font-family="Liberation Sans" font-size="6.5" font-weight="bold" text-anchor="middle" fill="#262626" stroke="#262626" stroke-width="0.22" textLength="56.4" lengthAdjust="spacing" transform="rotate(-90 236.3 217.9)">% divided among</text>
<text x="243.2" y="217.5" font-family="Liberation Sans" font-size="6.5" font-weight="bold" text-anchor="middle" fill="#262626" stroke="#262626" stroke-width="0.22" textLength="68.2" lengthAdjust="spacing" transform="rotate(-90 243.2 217.5)">CD45.2+ CD4+ T cells</text>
<text transform="translate(224.5 170.2) scale(0.92 1)" font-family="Liberation Sans" font-size="25" font-weight="bold" fill="#111">D</text>
<path d="M460.2,263.3 L464.4,263.3" fill="none" stroke="#262626" stroke-width="1" stroke-linejoin="round"/>
<text transform="translate(459.20 265.90) scale(0.93 1)" font-family="Liberation Sans" font-size="7.5" font-weight="bold" text-anchor="end" fill="#262626" stroke="#262626" stroke-width="0.22">0</text>
<path d="M460.2,244.4 L464.4,244.4" fill="none" stroke="#262626" stroke-width="1" stroke-linejoin="round"/>
<text transform="translate(459.20 247.00) scale(0.93 1)" font-family="Liberation Sans" font-size="7.5" font-weight="bold" text-anchor="end" fill="#262626" stroke="#262626" stroke-width="0.22">20</text>
<path d="M460.2,225.5 L464.4,225.5" fill="none" stroke="#262626" stroke-width="1" stroke-linejoin="round"/>
<text transform="translate(459.20 228.10) scale(0.93 1)" font-family="Liberation Sans" font-size="7.5" font-weight="bold" text-anchor="end" fill="#262626" stroke="#262626" stroke-width="0.22">40</text>
<path d="M460.2,206.60000000000002 L464.4,206.60000000000002" fill="none" stroke="#262626" stroke-width="1" stroke-linejoin="round"/>
<text transform="translate(459.20 209.20) scale(0.93 1)" font-family="Liberation Sans" font-size="7.5" font-weight="bold" text-anchor="end" fill="#262626" stroke="#262626" stroke-width="0.22">60</text>
<path d="M460.2,187.70000000000002 L464.4,187.70000000000002" fill="none" stroke="#262626" stroke-width="1" stroke-linejoin="round"/>
<text transform="translate(459.20 190.30) scale(0.93 1)" font-family="Liberation Sans" font-size="7.5" font-weight="bold" text-anchor="end" fill="#262626" stroke="#262626" stroke-width="0.22">80</text>
<path d="M460.2,168.8 L464.4,168.8" fill="none" stroke="#262626" stroke-width="1" stroke-linejoin="round"/>
<text transform="translate(459.20 171.40) scale(0.93 1)" font-family="Liberation Sans" font-size="7.5" font-weight="bold" text-anchor="end" fill="#262626" stroke="#262626" stroke-width="0.22">100</text>
<path d="M464.4,168.3 L464.4,263.8" fill="none" stroke="#262626" stroke-width="1.1" stroke-linejoin="round"/>
<path d="M463.9,263.3 L607,263.3" fill="none" stroke="#262626" stroke-width="1.1" stroke-linejoin="round"/>
<rect x="468" y="246.00" width="7" height="17.30" fill="#3a6cbf" stroke="#000" stroke-opacity="0.45" stroke-width="0.6"/>
<rect x="478.6" y="182.20" width="7" height="81.10" fill="#c6955a" stroke="#000" stroke-opacity="0.45" stroke-width="0.6"/>
<rect x="489.25" y="216.20" width="7" height="47.10" fill="#ea2f29" stroke="#000" stroke-opacity="0.45" stroke-width="0.6"/>
<rect x="499.5" y="221.30" width="7" height="42.00" fill="#3cb54a" stroke="#000" stroke-opacity="0.45" stroke-width="0.6"/>
<path d="M486.75,263.3 L486.75,266.8" fill="none" stroke="#262626" stroke-width="1" stroke-linejoin="round"/>
<text x="487.25" y="275.2" font-family="Liberation Sans" font-size="7.9" font-weight="bold" text-anchor="middle" fill="#262626" stroke="#262626" stroke-width="0.22" textLength="44.7" lengthAdjust="spacingAndGlyphs">Draining LNs</text>
<rect x="517" y="226.90" width="7" height="36.40" fill="#3a6cbf" stroke="#000" stroke-opacity="0.45" stroke-width="0.6"/>
<rect x="527.5" y="186.00" width="7" height="77.30" fill="#c6955a" stroke="#000" stroke-opacity="0.45" stroke-width="0.6"/>
<rect x="538.25" y="218.90" width="7" height="44.40" fill="#ea2f29" stroke="#000" stroke-opacity="0.45" stroke-width="0.6"/>
<rect x="548.75" y="225.90" width="7" height="37.40" fill="#3cb54a" stroke="#000" stroke-opacity="0.45" stroke-width="0.6"/>
<path d="M535.5,263.3 L535.5,266.8" fill="none" stroke="#262626" stroke-width="1" stroke-linejoin="round"/>
<text x="536.35" y="275.2" font-family="Liberation Sans" font-size="7.9" font-weight="bold" text-anchor="middle" fill="#262626" stroke="#262626" stroke-width="0.22" textLength="35.1" lengthAdjust="spacingAndGlyphs">Distal LNs</text>
<rect x="566.25" y="253.90" width="7" height="9.40" fill="#3a6cbf" stroke="#000" stroke-opacity="0.45" stroke-width="0.6"/>
<rect x="577" y="198.40" width="7" height="64.90" fill="#c6955a" stroke="#000" stroke-opacity="0.45" stroke-width="0.6"/>
<rect x="587.5" y="229.80" width="7" height="33.50" fill="#ea2f29" stroke="#000" stroke-opacity="0.45" stroke-width="0.6"/>
<rect x="598.25" y="233.90" width="7" height="29.40" fill="#3cb54a" stroke="#000" stroke-opacity="0.45" stroke-width="0.6"/>
<path d="M585.5,263.3 L585.5,266.8" fill="none" stroke="#262626" stroke-width="1" stroke-linejoin="round"/>
<text x="585.55" y="275.2" font-family="Liberation Sans" font-size="7.9" font-weight="bold" text-anchor="middle" fill="#262626" stroke="#262626" stroke-width="0.22" textLength="23.7" lengthAdjust="spacingAndGlyphs">Spleen</text>
<path d="M471.5,249.8 L471.5,242.2" fill="none" stroke="#111" stroke-width="0.8" stroke-linejoin="round"/>
<path d="M470.0,242.2 L473.0,242.2" fill="none" stroke="#111" stroke-width="0.8" stroke-linejoin="round"/>
<path d="M470.0,249.8 L473.0,249.8" fill="none" stroke="#111" stroke-width="0.8" stroke-linejoin="round"/>
<polygon points="471.5,238.26 473.3,240.6 471.5,242.94 469.7,240.6" fill="#000"/>
<polygon points="469.5,246.66 471.3,249 469.5,251.34 467.7,249" fill="#000"/>
<polygon points="473.5,244.66 475.3,247 473.5,249.34 471.7,247" fill="#000"/>
<circle cx="482.1" cy="178.9" r="1.8" fill="#000"/>
<circle cx="480.0" cy="183.9" r="1.8" fill="#000"/>
<circle cx="484.0" cy="183" r="1.8" fill="#000"/>
<path d="M492.75,219.7 L492.75,212.7" fill="none" stroke="#111" stroke-width="0.8" stroke-linejoin="round"/>
<path d="M491.25,212.7 L494.25,212.7" fill="none" stroke="#111" stroke-width="0.8" stroke-linejoin="round"/>
<path d="M491.25,219.7 L494.25,219.7" fill="none" stroke="#111" stroke-width="0.8" stroke-linejoin="round"/>
<polygon points="492.75,206.74 494.73,210.70000000000002 490.77,210.70000000000002" fill="#000"/>
<polygon points="491.05,217.84 493.03000000000003,221.8 489.07,221.8" fill="#000"/>
<polygon points="494.55,218.34 496.53000000000003,222.3 492.57,222.3" fill="#000"/>
<path d="M503.0,227.4 L503.0,215.2" fill="none" stroke="#111" stroke-width="0.8" stroke-linejoin="round"/>
<path d="M501.5,215.2 L504.5,215.2" fill="none" stroke="#111" stroke-width="0.8" stroke-linejoin="round"/>
<path d="M501.5,227.4 L504.5,227.4" fill="none" stroke="#111" stroke-width="0.8" stroke-linejoin="round"/>
<rect x="501.2" y="208.29999999999998" width="3.6" height="3.6" fill="#000"/>
<rect x="500.2" y="222.89999999999998" width="3.6" height="3.6" fill="#000"/>
<rect x="502.2" y="224.79999999999998" width="3.6" height="3.6" fill="#000"/>
<path d="M520.5,238.4 L520.5,215.4" fill="none" stroke="#111" stroke-width="0.8" stroke-linejoin="round"/>
<path d="M519.0,215.4 L522.0,215.4" fill="none" stroke="#111" stroke-width="0.8" stroke-linejoin="round"/>
<path d="M519.0,238.4 L522.0,238.4" fill="none" stroke="#111" stroke-width="0.8" stroke-linejoin="round"/>
<polygon points="520.5,204.06 522.3,206.4 520.5,208.74 518.7,206.4" fill="#000"/>
<polygon points="520.5,234.85999999999999 522.3,237.2 520.5,239.54 518.7,237.2" fill="#000"/>
<polygon points="520.5,240.35999999999999 522.3,242.7 520.5,245.04 518.7,242.7" fill="#000"/>
<circle cx="529.5" cy="184.5" r="1.8" fill="#000"/>
<circle cx="532.5" cy="184.5" r="1.8" fill="#000"/>
<circle cx="531.0" cy="191.4" r="1.8" fill="#000"/>
<polygon points="541.0,212.94 542.98,216.9 539.02,216.9" fill="#000"/>
<polygon points="540.25,218.34 542.23,222.3 538.27,222.3" fill="#000"/>
<polygon points="543.25,218.34 545.23,222.3 541.27,222.3" fill="#000"/>
<path d="M552.25,230.3 L552.25,221.5" fill="none" stroke="#111" stroke-width="0.8" stroke-linejoin="round"/>
<path d="M550.75,221.5 L553.75,221.5" fill="none" stroke="#111" stroke-width="0.8" stroke-linejoin="round"/>
<path d="M550.75,230.3 L553.75,230.3" fill="none" stroke="#111" stroke-width="0.8" stroke-linejoin="round"/>
<rect x="549.2" y="219.79999999999998" width="3.6" height="3.6" fill="#000"/>
<rect x="553.2" y="220.29999999999998" width="3.6" height="3.6" fill="#000"/>
<rect x="550.45" y="230.5" width="3.6" height="3.6" fill="#000"/>
<polygon points="568.5,250.76 570.3,253.1 568.5,255.44 566.7,253.1" fill="#000"/>
<polygon points="571.0,249.85999999999999 572.8,252.2 571.0,254.54 569.2,252.2" fill="#000"/>
<polygon points="569.75,251.16 571.55,253.5 569.75,255.84 567.95,253.5" fill="#000"/>
<circle cx="579.0" cy="195.3" r="1.8" fill="#000"/>
<circle cx="582.0" cy="196.7" r="1.8" fill="#000"/>
<circle cx="580.0" cy="199.6" r="1.8" fill="#000"/>
<path d="M591.0,234.7 L591.0,224.9" fill="none" stroke="#111" stroke-width="0.8" stroke-linejoin="round"/>
<path d="M589.5,224.9 L592.5,224.9" fill="none" stroke="#111" stroke-width="0.8" stroke-linejoin="round"/>
<path d="M589.5,234.7 L592.5,234.7" fill="none" stroke="#111" stroke-width="0.8" stroke-linejoin="round"/>
<polygon points="591.0,219.14000000000001 592.98,223.10000000000002 589.02,223.10000000000002" fill="#000"/>
<polygon points="589.5,231.24 591.48,235.20000000000002 587.52,235.20000000000002" fill="#000"/>
<polygon points="592.5,229.24 594.48,233.20000000000002 590.52,233.20000000000002" fill="#000"/>
<path d="M601.75,237.8 L601.75,230" fill="none" stroke="#111" stroke-width="0.8" stroke-linejoin="round"/>
<path d="M600.25,230 L603.25,230" fill="none" stroke="#111" stroke-width="0.8" stroke-linejoin="round"/>
<path d="M600.25,237.8 L603.25,237.8" fill="none" stroke="#111" stroke-width="0.8" stroke-linejoin="round"/>
<rect x="599.95" y="226.79999999999998" width="3.6" height="3.6" fill="#000"/>
<rect x="598.2" y="234.5" width="3.6" height="3.6" fill="#000"/>
<rect x="601.2" y="233.2" width="3.6" height="3.6" fill="#000"/>
<path d="M472.5,174.5 L472.5,172.5 L497.5,172.5 L497.5,175.5" fill="none" stroke="#484848" stroke-width="1" stroke-linejoin="miter" stroke-linecap="square"/>
<path d="M482.5,172.5 L482.5,174.5" fill="none" stroke="#484848" stroke-width="1" stroke-linejoin="miter" stroke-linecap="square"/>
<path d="M490.5,174.5 L505.5,174.5" fill="none" stroke="#999" stroke-width="1.2" stroke-linejoin="miter" stroke-linecap="square"/>
<path d="M520.5,179.5 L520.5,176.5 L546.5,176.5 L546.5,179.5" fill="none" stroke="#484848" stroke-width="1" stroke-linejoin="miter" stroke-linecap="square"/>
<path d="M530.5,176.5 L530.5,179.5" fill="none" stroke="#484848" stroke-width="1" stroke-linejoin="miter" stroke-linecap="square"/>
<path d="M538.5,180.5 L553.5,180.5" fill="none" stroke="#999" stroke-width="1.2" stroke-linejoin="miter" stroke-linecap="square"/>
<path d="M568.5,192.5 L568.5,189.5 L594.5,189.5 L594.5,192.5" fill="none" stroke="#484848" stroke-width="1" stroke-linejoin="miter" stroke-linecap="square"/>
<path d="M578.5,189.5 L578.5,192.5" fill="none" stroke="#484848" stroke-width="1" stroke-linejoin="miter" stroke-linecap="square"/>
<path d="M586.5,192.5 L604.5,192.5" fill="none" stroke="#999" stroke-width="1.2" stroke-linejoin="miter" stroke-linecap="square"/>
<polygon points="467.75,163.40 468.40,164.71 469.84,164.92 468.80,165.94 469.04,167.38 467.75,166.70 466.46,167.38 466.70,165.94 465.66,164.92 467.10,164.71" fill="#333"/><polygon points="472.25,163.40 472.90,164.71 474.34,164.92 473.30,165.94 473.54,167.38 472.25,166.70 470.96,167.38 471.20,165.94 470.16,164.92 471.60,164.71" fill="#333"/><polygon points="476.75,163.40 477.40,164.71 478.84,164.92 477.80,165.94 478.04,167.38 476.75,166.70 475.46,167.38 475.70,165.94 474.66,164.92 476.10,164.71" fill="#333"/><polygon points="481.25,163.40 481.90,164.71 483.34,164.92 482.30,165.94 482.54,167.38 481.25,166.70 479.96,167.38 480.20,165.94 479.16,164.92 480.60,164.71" fill="#333"/>
<polygon points="490.40,163.40 491.05,164.71 492.49,164.92 491.45,165.94 491.69,167.38 490.40,166.70 489.11,167.38 489.35,165.94 488.31,164.92 489.75,164.71" fill="#333"/><polygon points="494.90,163.40 495.55,164.71 496.99,164.92 495.95,165.94 496.19,167.38 494.90,166.70 493.61,167.38 493.85,165.94 492.81,164.92 494.25,164.71" fill="#333"/><polygon points="499.40,163.40 500.05,164.71 501.49,164.92 500.45,165.94 500.69,167.38 499.40,166.70 498.11,167.38 498.35,165.94 497.31,164.92 498.75,164.71" fill="#333"/>
<polygon points="515.50,170.60 516.15,171.91 517.59,172.12 516.55,173.14 516.79,174.58 515.50,173.90 514.21,174.58 514.45,173.14 513.41,172.12 514.85,171.91" fill="#333"/><polygon points="520.00,170.60 520.65,171.91 522.09,172.12 521.05,173.14 521.29,174.58 520.00,173.90 518.71,174.58 518.95,173.14 517.91,172.12 519.35,171.91" fill="#333"/><polygon points="524.50,170.60 525.15,171.91 526.59,172.12 525.55,173.14 525.79,174.58 524.50,173.90 523.21,174.58 523.45,173.14 522.41,172.12 523.85,171.91" fill="#333"/><polygon points="529.00,170.60 529.65,171.91 531.09,172.12 530.05,173.14 530.29,174.58 529.00,173.90 527.71,174.58 527.95,173.14 526.91,172.12 528.35,171.91" fill="#333"/>
<polygon points="539.90,169.85 540.55,171.16 541.99,171.37 540.95,172.39 541.19,173.83 539.90,173.15 538.61,173.83 538.85,172.39 537.81,171.37 539.25,171.16" fill="#333"/><polygon points="544.40,169.85 545.05,171.16 546.49,171.37 545.45,172.39 545.69,173.83 544.40,173.15 543.11,173.83 543.35,172.39 542.31,171.37 543.75,171.16" fill="#333"/><polygon points="548.90,169.85 549.55,171.16 550.99,171.37 549.95,172.39 550.19,173.83 548.90,173.15 547.61,173.83 547.85,172.39 546.81,171.37 548.25,171.16" fill="#333"/>
<polygon points="564.00,182.70 564.65,184.01 566.09,184.22 565.05,185.24 565.29,186.68 564.00,186.00 562.71,186.68 562.95,185.24 561.91,184.22 563.35,184.01" fill="#333"/><polygon points="568.50,182.70 569.15,184.01 570.59,184.22 569.55,185.24 569.79,186.68 568.50,186.00 567.21,186.68 567.45,185.24 566.41,184.22 567.85,184.01" fill="#333"/><polygon points="573.00,182.70 573.65,184.01 575.09,184.22 574.05,185.24 574.29,186.68 573.00,186.00 571.71,186.68 571.95,185.24 570.91,184.22 572.35,184.01" fill="#333"/><polygon points="577.50,182.70 578.15,184.01 579.59,184.22 578.55,185.24 578.79,186.68 577.50,186.00 576.21,186.68 576.45,185.24 575.41,184.22 576.85,184.01" fill="#333"/>
<polygon points="588.15,182.70 588.80,184.01 590.24,184.22 589.20,185.24 589.44,186.68 588.15,186.00 586.86,186.68 587.10,185.24 586.06,184.22 587.50,184.01" fill="#333"/><polygon points="592.65,182.70 593.30,184.01 594.74,184.22 593.70,185.24 593.94,186.68 592.65,186.00 591.36,186.68 591.60,185.24 590.56,184.22 592.00,184.01" fill="#333"/>
<text x="435" y="215.9" font-family="Liberation Sans" font-size="6.5" font-weight="bold" text-anchor="middle" fill="#262626" stroke="#262626" stroke-width="0.22" textLength="51.4" lengthAdjust="spacing" transform="rotate(-90 435 215.9)">% CD44<tspan font-size="4.2" dy="-2.9">hi</tspan><tspan dy="2.9"> among</tspan></text>
<text x="442.3" y="215.9" font-family="Liberation Sans" font-size="6.5" font-weight="bold" text-anchor="middle" fill="#262626" stroke="#262626" stroke-width="0.22" textLength="66.6" lengthAdjust="spacing" transform="rotate(-90 442.3 215.9)">CD45.2+ CD4+ T cells</text>
<text transform="translate(424.5 170.2) scale(0.92 1)" font-family="Liberation Sans" font-size="25" font-weight="bold" fill="#111">F</text>
<path d="M660.6999999999999,265.4 L664.9,265.4" fill="none" stroke="#555" stroke-width="1" stroke-linejoin="round"/>
<text transform="translate(659.70 268.00) scale(0.93 1)" font-family="Liberation Sans" font-size="7.6" font-weight="normal" text-anchor="end" fill="#333">0</text>
<path d="M660.6999999999999,246.32 L664.9,246.32" fill="none" stroke="#555" stroke-width="1" stroke-linejoin="round"/>
<text transform="translate(659.70 248.92) scale(0.93 1)" font-family="Liberation Sans" font-size="7.6" font-weight="normal" text-anchor="end" fill="#333">20</text>
<path d="M660.6999999999999,227.23999999999998 L664.9,227.23999999999998" fill="none" stroke="#555" stroke-width="1" stroke-linejoin="round"/>
<text transform="translate(659.70 229.84) scale(0.93 1)" font-family="Liberation Sans" font-size="7.6" font-weight="normal" text-anchor="end" fill="#333">40</text>
<path d="M660.6999999999999,208.15999999999997 L664.9,208.15999999999997" fill="none" stroke="#555" stroke-width="1" stroke-linejoin="round"/>
<text transform="translate(659.70 210.76) scale(0.93 1)" font-family="Liberation Sans" font-size="7.6" font-weight="normal" text-anchor="end" fill="#333">60</text>
<path d="M660.6999999999999,189.07999999999998 L664.9,189.07999999999998" fill="none" stroke="#555" stroke-width="1" stroke-linejoin="round"/>
<text transform="translate(659.70 191.68) scale(0.93 1)" font-family="Liberation Sans" font-size="7.6" font-weight="normal" text-anchor="end" fill="#333">80</text>
<path d="M660.6999999999999,170.0 L664.9,170.0" fill="none" stroke="#555" stroke-width="1" stroke-linejoin="round"/>
<text transform="translate(659.70 172.60) scale(0.93 1)" font-family="Liberation Sans" font-size="7.6" font-weight="normal" text-anchor="end" fill="#333">100</text>
<path d="M664.9,169.5 L664.9,265.9" fill="none" stroke="#555" stroke-width="1.1" stroke-linejoin="round"/>
<path d="M664.4,265.4 L789,265.4" fill="none" stroke="#262626" stroke-width="1.1" stroke-linejoin="round"/>
<rect x="669.7" y="248.00" width="8.8" height="17.40" fill="#3a6cbf" stroke="#000" stroke-opacity="0.45" stroke-width="0.6"/>
<rect x="683.6" y="250.10" width="8.8" height="15.30" fill="#c6955a" stroke="#000" stroke-opacity="0.45" stroke-width="0.6"/>
<rect x="698" y="189.50" width="8.8" height="75.90" fill="#ea2f29" stroke="#000" stroke-opacity="0.45" stroke-width="0.6"/>
<rect x="712" y="179.70" width="8.8" height="85.70" fill="#3cb54a" stroke="#000" stroke-opacity="0.45" stroke-width="0.6"/>
<path d="M695.5,265.4 L695.5,268.9" fill="none" stroke="#262626" stroke-width="1" stroke-linejoin="round"/>
<text x="695.15" y="277.0" font-family="Liberation Sans" font-size="7.9" font-weight="bold" text-anchor="middle" fill="#262626" stroke="#262626" stroke-width="0.22" textLength="35.1" lengthAdjust="spacingAndGlyphs">Pooled LNs</text>
<rect x="734.7" y="240.90" width="8.8" height="24.50" fill="#3a6cbf" stroke="#000" stroke-opacity="0.45" stroke-width="0.6"/>
<rect x="748.7" y="255.90" width="8.8" height="9.50" fill="#c6955a" stroke="#000" stroke-opacity="0.45" stroke-width="0.6"/>
<rect x="763.1" y="205.40" width="8.8" height="60.00" fill="#ea2f29" stroke="#000" stroke-opacity="0.45" stroke-width="0.6"/>
<rect x="777" y="191.00" width="8.8" height="74.40" fill="#3cb54a" stroke="#000" stroke-opacity="0.45" stroke-width="0.6"/>
<path d="M760,265.4 L760,268.9" fill="none" stroke="#262626" stroke-width="1" stroke-linejoin="round"/>
<text x="760.2" y="277.0" font-family="Liberation Sans" font-size="7.9" font-weight="bold" text-anchor="middle" fill="#262626" stroke="#262626" stroke-width="0.22" textLength="20.2" lengthAdjust="spacingAndGlyphs">Spleen</text>
<path d="M674.1,250.4 L674.1,245.6" fill="none" stroke="#111" stroke-width="0.8" stroke-linejoin="round"/>
<path d="M672.6,245.6 L675.6,245.6" fill="none" stroke="#111" stroke-width="0.8" stroke-linejoin="round"/>
<path d="M672.6,250.4 L675.6,250.4" fill="none" stroke="#111" stroke-width="0.8" stroke-linejoin="round"/>
<polygon points="671.1,242.46 672.9,244.8 671.1,247.14000000000001 669.3000000000001,244.8" fill="#000"/>
<polygon points="677.1,245.06 678.9,247.4 677.1,249.74 675.3000000000001,247.4" fill="#000"/>
<polygon points="674.1,248.85999999999999 675.9,251.2 674.1,253.54 672.3000000000001,251.2" fill="#000"/>
<path d="M688.0,255 L688.0,245.3" fill="none" stroke="#111" stroke-width="0.8" stroke-linejoin="round"/>
<path d="M686.5,245.3 L689.5,245.3" fill="none" stroke="#111" stroke-width="0.8" stroke-linejoin="round"/>
<path d="M686.5,255 L689.5,255" fill="none" stroke="#111" stroke-width="0.8" stroke-linejoin="round"/>
<circle cx="688.0" cy="242.1" r="1.8" fill="#000"/>
<circle cx="691.5" cy="251.2" r="1.8" fill="#000"/>
<circle cx="685.0" cy="255.3" r="1.8" fill="#000"/>
<polygon points="699.9,186.14000000000001 701.88,190.10000000000002 697.92,190.10000000000002" fill="#000"/>
<polygon points="702.4,185.64000000000001 704.38,189.60000000000002 700.42,189.60000000000002" fill="#000"/>
<polygon points="704.9,186.14000000000001 706.88,190.10000000000002 702.92,190.10000000000002" fill="#000"/>
<rect x="712.1" y="179.2" width="3.6" height="3.6" fill="#000"/>
<rect x="714.6" y="178.79999999999998" width="3.6" height="3.6" fill="#000"/>
<rect x="717.1" y="179.6" width="3.6" height="3.6" fill="#000"/>
<path d="M739.1,244.5 L739.1,237.3" fill="none" stroke="#111" stroke-width="0.8" stroke-linejoin="round"/>
<path d="M737.6,237.3 L740.6,237.3" fill="none" stroke="#111" stroke-width="0.8" stroke-linejoin="round"/>
<path d="M737.6,244.5 L740.6,244.5" fill="none" stroke="#111" stroke-width="0.8" stroke-linejoin="round"/>
<polygon points="739.1,232.96 740.9,235.3 739.1,237.64000000000001 737.3000000000001,235.3" fill="#000"/>
<polygon points="739.1,236.96 740.9,239.3 739.1,241.64000000000001 737.3000000000001,239.3" fill="#000"/>
<polygon points="739.1,244.26 740.9,246.6 739.1,248.94 737.3000000000001,246.6" fill="#000"/>
<circle cx="750.1" cy="257.6" r="1.8" fill="#000"/>
<circle cx="753.1" cy="254.3" r="1.8" fill="#000"/>
<circle cx="756.1" cy="254.3" r="1.8" fill="#000"/>
<polygon points="765.0,202.64000000000001 766.98,206.60000000000002 763.02,206.60000000000002" fill="#000"/>
<polygon points="767.5,202.14000000000001 769.48,206.10000000000002 765.52,206.10000000000002" fill="#000"/>
<polygon points="770.0,202.64000000000001 771.98,206.60000000000002 768.02,206.60000000000002" fill="#000"/>
<rect x="777.1" y="191.2" width="3.6" height="3.6" fill="#000"/>
<rect x="780.1" y="189.2" width="3.6" height="3.6" fill="#000"/>
<rect x="782.4" y="190.7" width="3.6" height="3.6" fill="#000"/>
<path d="M688.5,175.5 L688.5,173.5 L709.5,173.5 L709.5,175.5" fill="none" stroke="#484848" stroke-width="1" stroke-linejoin="miter" stroke-linecap="square"/>
<path d="M697.5,176.5 L720.5,176.5" fill="none" stroke="#999" stroke-width="1.2" stroke-linejoin="miter" stroke-linecap="square"/>
<path d="M752.5,173.5 L752.5,170.5 L773.5,170.5 L773.5,173.5" fill="none" stroke="#484848" stroke-width="1" stroke-linejoin="miter" stroke-linecap="square"/>
<path d="M761.5,173.5 L785.5,173.5" fill="none" stroke="#999" stroke-width="1.2" stroke-linejoin="miter" stroke-linecap="square"/>
<path d="M770.5,187.5 L770.5,184.5 L780.5,184.5 L780.5,187.5" fill="none" stroke="#484848" stroke-width="1" stroke-linejoin="miter" stroke-linecap="square"/>
<polygon points="692.05,165.70 692.70,167.01 694.14,167.22 693.10,168.24 693.34,169.68 692.05,169.00 690.76,169.68 691.00,168.24 689.96,167.22 691.40,167.01" fill="#333"/><polygon points="696.55,165.70 697.20,167.01 698.64,167.22 697.60,168.24 697.84,169.68 696.55,169.00 695.26,169.68 695.50,168.24 694.46,167.22 695.90,167.01" fill="#333"/><polygon points="701.05,165.70 701.70,167.01 703.14,167.22 702.10,168.24 702.34,169.68 701.05,169.00 699.76,169.68 700.00,168.24 698.96,167.22 700.40,167.01" fill="#333"/><polygon points="705.55,165.70 706.20,167.01 707.64,167.22 706.60,168.24 706.84,169.68 705.55,169.00 704.26,169.68 704.50,168.24 703.46,167.22 704.90,167.01" fill="#333"/>
<polygon points="757.10,162.30 757.75,163.61 759.19,163.82 758.15,164.84 758.39,166.28 757.10,165.60 755.81,166.28 756.05,164.84 755.01,163.82 756.45,163.61" fill="#333"/><polygon points="761.60,162.30 762.25,163.61 763.69,163.82 762.65,164.84 762.89,166.28 761.60,165.60 760.31,166.28 760.55,164.84 759.51,163.82 760.95,163.61" fill="#333"/><polygon points="766.10,162.30 766.75,163.61 768.19,163.82 767.15,164.84 767.39,166.28 766.10,165.60 764.81,166.28 765.05,164.84 764.01,163.82 765.45,163.61" fill="#333"/><polygon points="770.60,162.30 771.25,163.61 772.69,163.82 771.65,164.84 771.89,166.28 770.60,165.60 769.31,166.28 769.55,164.84 768.51,163.82 769.95,163.61" fill="#333"/>
<polygon points="772.75,177.50 773.40,178.81 774.84,179.02 773.80,180.04 774.04,181.48 772.75,180.80 771.46,181.48 771.70,180.04 770.66,179.02 772.10,178.81" fill="#333"/><polygon points="777.25,177.50 777.90,178.81 779.34,179.02 778.30,180.04 778.54,181.48 777.25,180.80 775.96,181.48 776.20,180.04 775.16,179.02 776.60,178.81" fill="#333"/>
<text x="639.7" y="216.2" font-family="Liberation Sans" font-size="6.5" font-weight="bold" text-anchor="middle" fill="#262626" stroke="#262626" stroke-width="0.22" textLength="52" lengthAdjust="spacing" transform="rotate(-90 639.7 216.2)">% CD73+ among</text>
<text x="646.8" y="216.2" font-family="Liberation Sans" font-size="6.5" font-weight="bold" text-anchor="middle" fill="#262626" stroke="#262626" stroke-width="0.22" textLength="66" lengthAdjust="spacing" transform="rotate(-90 646.8 216.2)">CD45.2+ CD4+ T cells</text>
<text transform="translate(622.5 170.2) scale(0.92 1)" font-family="Liberation Sans" font-size="25" font-weight="bold" fill="#111">H</text>
<text x="11" y="72.3" font-family="Liberation Sans" font-size="12" font-weight="normal" text-anchor="middle" fill="#444" transform="rotate(-90 11 72.3)">Lower dose</text>
<text x="12" y="212.7" font-family="Liberation Sans" font-size="12" font-weight="normal" text-anchor="middle" fill="#444" transform="rotate(-90 12 212.7)">Higher dose</text>
<text x="195.0" y="197.9" font-family="Liberation Sans" font-size="9.6" font-weight="normal" text-anchor="middle" fill="#3a3a3a" textLength="28" lengthAdjust="spacingAndGlyphs">p=0.06</text>
<rect x="220.5" y="302.5" width="11" height="11" fill="#1f70c1" stroke="#333" stroke-width="0.6"/>
<text x="238.6" y="312.1" font-family="Liberation Sans" font-size="13.2" font-weight="normal" text-anchor="start" fill="#3d3d3d" textLength="37.0" lengthAdjust="spacingAndGlyphs">Saline</text>
<rect x="313" y="302.5" width="11" height="11" fill="#c9932b" stroke="#333" stroke-width="0.6"/>
<text x="335.3" y="312.1" font-family="Liberation Sans" font-size="13.2" font-weight="normal" text-anchor="start" fill="#3d3d3d" textLength="68.8" lengthAdjust="spacingAndGlyphs">Peptide mix</text>
<rect x="434" y="302.5" width="11" height="11" fill="#e72b2b" stroke="#333" stroke-width="0.6"/>
<text x="455.6" y="312.1" font-family="Liberation Sans" font-size="13.2" font-weight="normal" text-anchor="start" fill="#3d3d3d" textLength="65.2" lengthAdjust="spacingAndGlyphs">hSAgA mix</text>
<rect x="548.5" y="302.5" width="11" height="11" fill="#24a84f" stroke="#333" stroke-width="0.6"/>
<text x="570.8" y="312.1" font-family="Liberation Sans" font-size="13.2" font-weight="normal" text-anchor="start" fill="#3d3d3d" textLength="64.2" lengthAdjust="spacingAndGlyphs">cSAgA mix</text>
</g>
</svg></body></html>
